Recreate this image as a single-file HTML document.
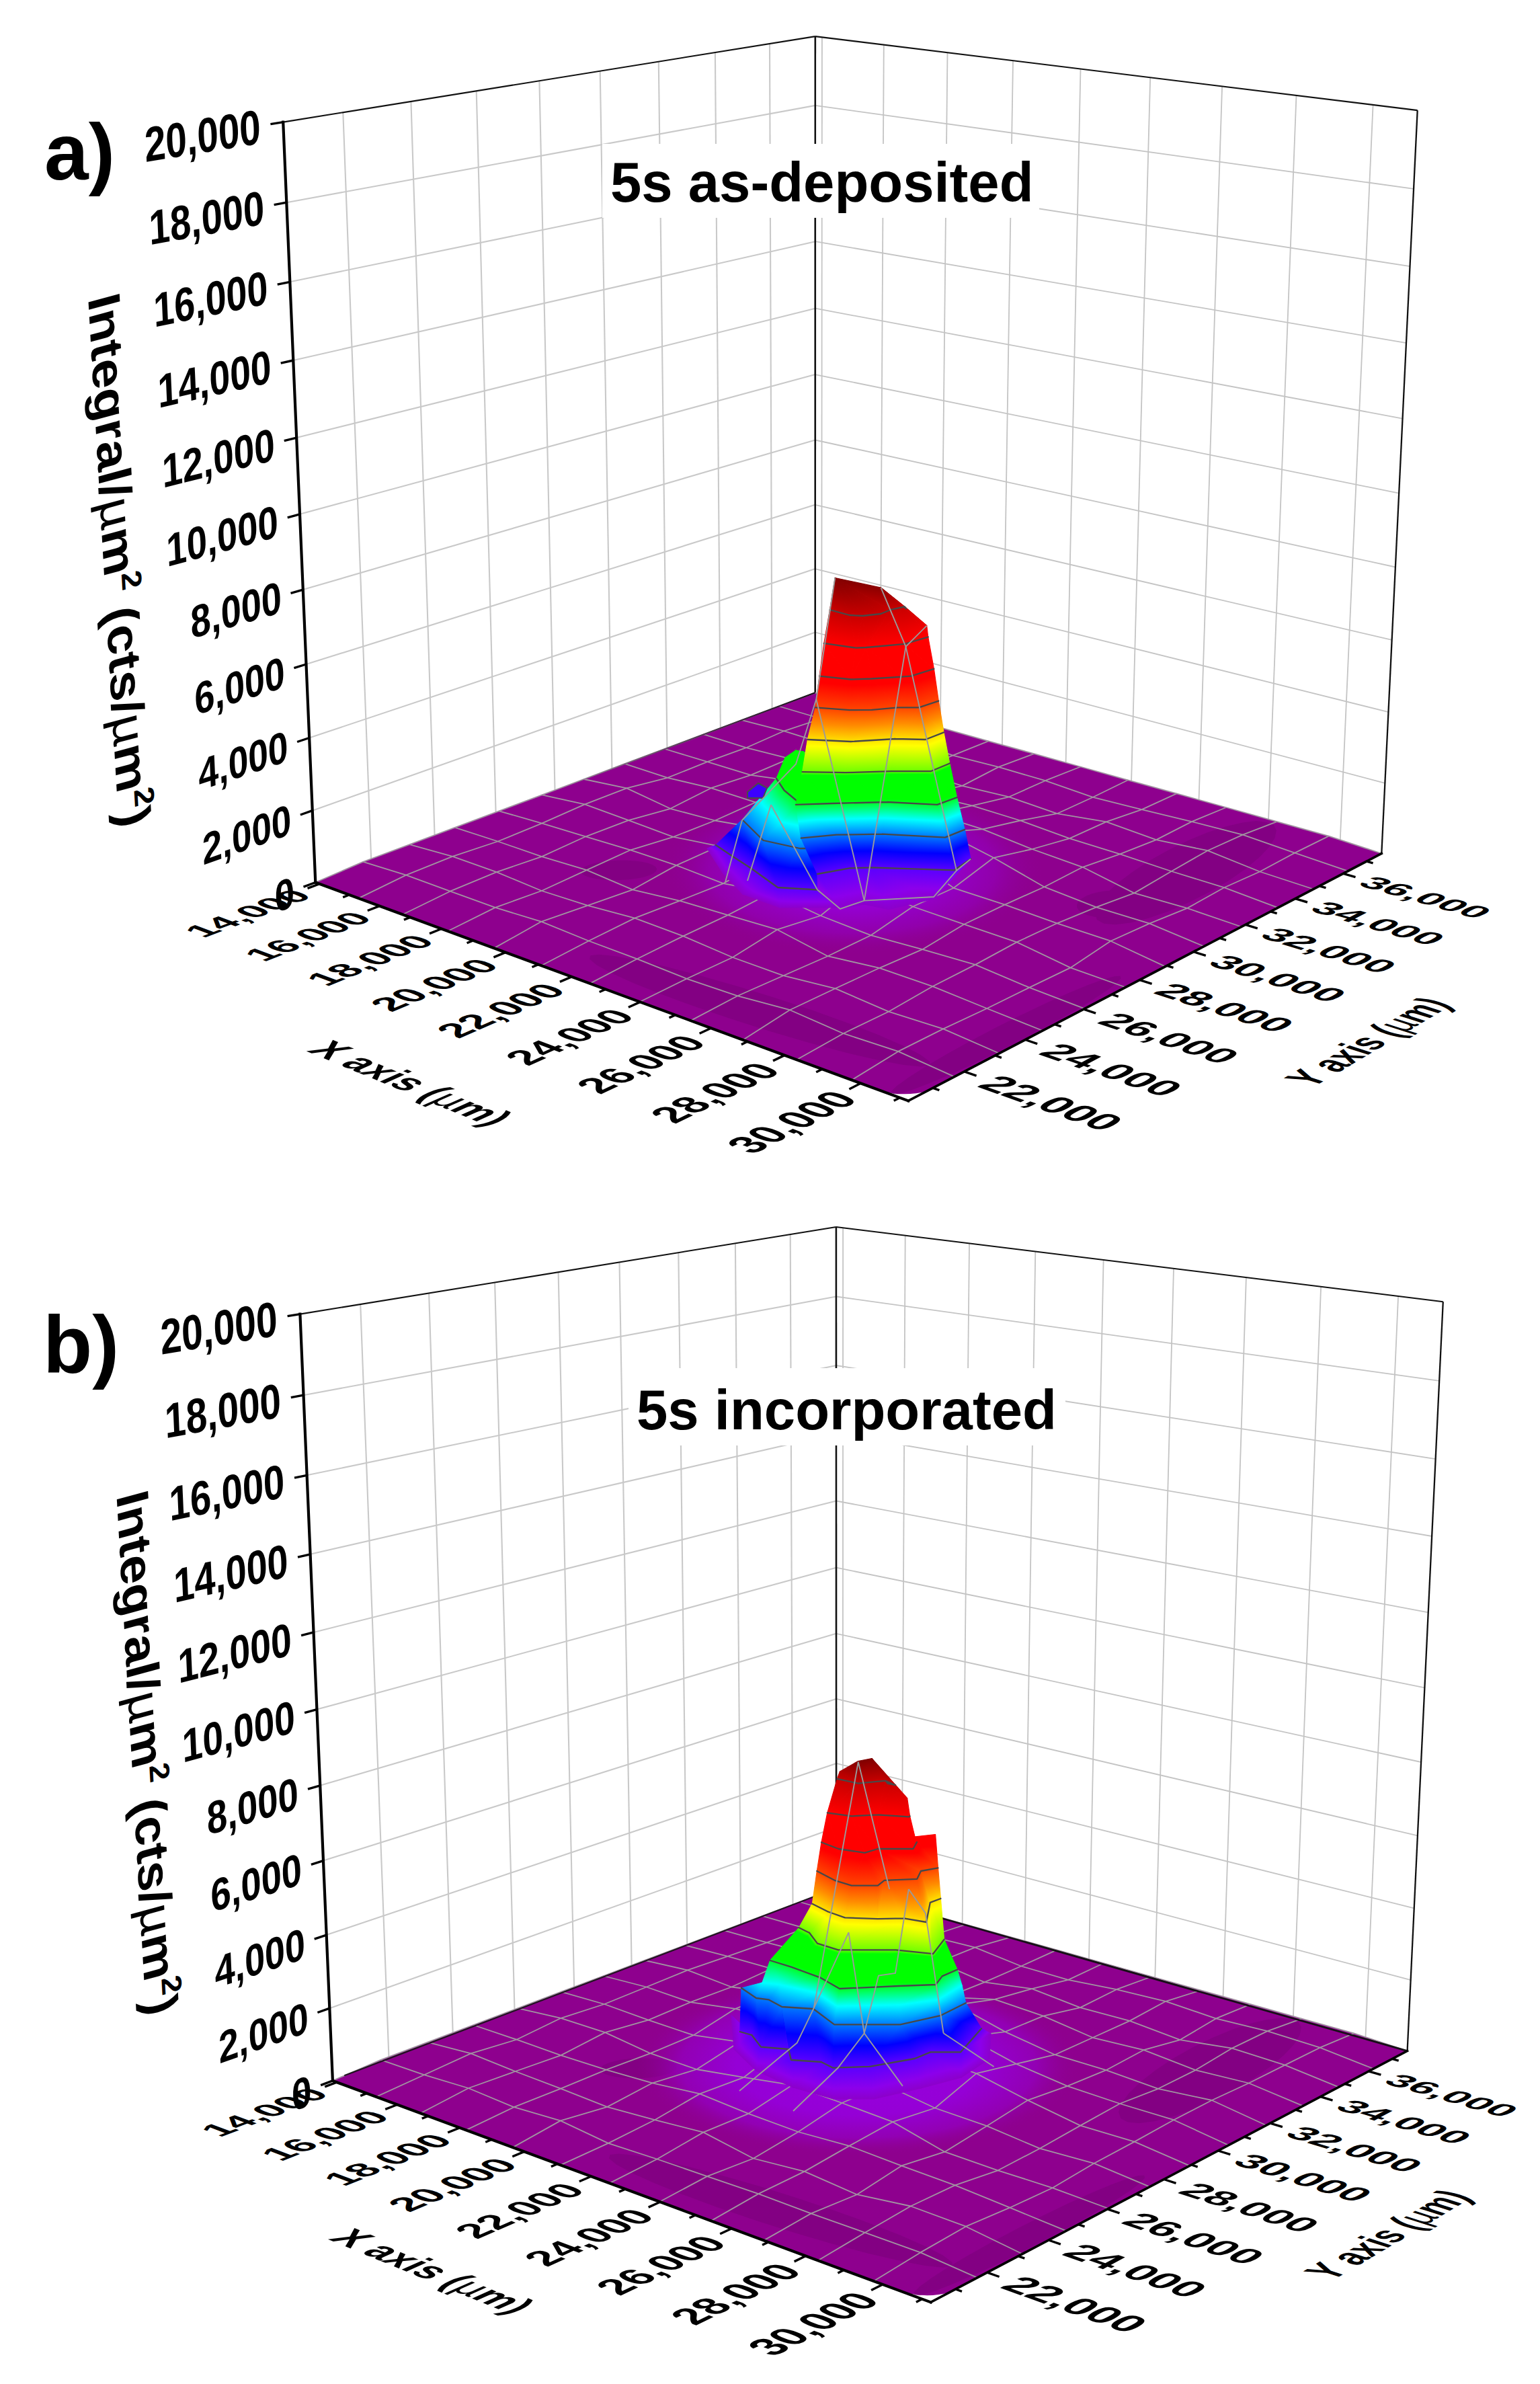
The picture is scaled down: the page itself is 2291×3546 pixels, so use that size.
<!DOCTYPE html>
<html><head><meta charset="utf-8"><title>Figure</title>
<style>html,body{margin:0;padding:0;background:#fff}svg{display:block}text{font-family:"Liberation Sans",sans-serif;fill:#000}</style>
</head><body>
<svg width="2291" height="3546" viewBox="0 0 2291 3546">
<defs>
<linearGradient id="cm"><stop offset="0%" stop-color="#8b008b"/><stop offset="6%" stop-color="#8c00eb"/><stop offset="10%" stop-color="#5a00ff"/><stop offset="15%" stop-color="#0000ff"/><stop offset="20%" stop-color="#0078ff"/><stop offset="25%" stop-color="#00ffff"/><stop offset="30%" stop-color="#00ff28"/><stop offset="31%" stop-color="#00ff00"/><stop offset="39%" stop-color="#00ff00"/><stop offset="40%" stop-color="#6eff00"/><stop offset="48%" stop-color="#ffff00"/><stop offset="50%" stop-color="#ffe100"/><stop offset="55%" stop-color="#ff8c00"/><stop offset="60%" stop-color="#ff4600"/><stop offset="68%" stop-color="#ff0000"/><stop offset="80%" stop-color="#ff0000"/><stop offset="90%" stop-color="#c80000"/><stop offset="100%" stop-color="#800000"/></linearGradient>
<radialGradient id="glow"><stop offset="0" stop-color="#9600df"/><stop offset="0.45" stop-color="#9500d2"/><stop offset="0.75" stop-color="#9200b0" stop-opacity="0.85"/><stop offset="1" stop-color="#8e008e" stop-opacity="0"/></radialGradient>
<radialGradient id="glow2"><stop offset="0" stop-color="#9600e1"/><stop offset="0.55" stop-color="#9500d6"/><stop offset="0.8" stop-color="#9300b8" stop-opacity="0.9"/><stop offset="1" stop-color="#8e008e" stop-opacity="0"/></radialGradient>
<radialGradient id="glow_old"><stop offset="0" stop-color="#9400e0"/><stop offset="0.55" stop-color="#9400d8" stop-opacity="0.9"/><stop offset="1" stop-color="#8b008b" stop-opacity="0"/></radialGradient>
<linearGradient id="bd1" gradientUnits="userSpaceOnUse" x1="831.6" y1="1172.9" x2="1212.7" y2="1030.3"><stop offset="0" stop-color="#402040" stop-opacity="0"/><stop offset="0.6" stop-color="#301830" stop-opacity="0.8"/><stop offset="1" stop-color="#181018"/></linearGradient>
<linearGradient id="g2" href="#cm" gradientUnits="userSpaceOnUse" x1="1047.7" y1="1268.3" x2="1154.2" y2="1110.6"/>
<linearGradient id="g3" href="#cm" gradientUnits="userSpaceOnUse" x1="1038" y1="1271" x2="1389.1" y2="1046.6"/>
<linearGradient id="g4" href="#cm" gradientUnits="userSpaceOnUse" x1="1064.7" y1="1313.9" x2="1322.5" y2="916.3"/>
<linearGradient id="g5" href="#cm" gradientUnits="userSpaceOnUse" x1="1057.7" y1="1314.2" x2="1489.1" y2="909.8"/>
<linearGradient id="g6" href="#cm" gradientUnits="userSpaceOnUse" x1="1090.1" y1="1350.8" x2="1463.8" y2="830.3"/>
<linearGradient id="g7" href="#cm" gradientUnits="userSpaceOnUse" x1="1098.8" y1="1347" x2="1253.6" y2="921.5"/>
<linearGradient id="g8" href="#cm" gradientUnits="userSpaceOnUse" x1="1158.8" y1="1369.8" x2="1188.2" y2="874.5"/>
<linearGradient id="g9" href="#cm" gradientUnits="userSpaceOnUse" x1="1160" y1="1367.7" x2="1160" y2="926"/>
<linearGradient id="g10" href="#cm" gradientUnits="userSpaceOnUse" x1="1225" y1="1367.7" x2="1225" y2="926"/>
<linearGradient id="g11" href="#cm" gradientUnits="userSpaceOnUse" x1="1251" y1="1368.8" x2="1226.7" y2="899.1"/>
<linearGradient id="g12" href="#cm" gradientUnits="userSpaceOnUse" x1="1035.2" y1="1301.1" x2="1333.1" y2="859.9"/>
<linearGradient id="g13" href="#cm" gradientUnits="userSpaceOnUse" x1="1059.6" y1="1317.9" x2="1350.9" y2="868.7"/>
<linearGradient id="g14" href="#cm" gradientUnits="userSpaceOnUse" x1="1088.4" y1="1322.1" x2="1384.5" y2="1021.2"/>
<linearGradient id="g15" href="#cm" gradientUnits="userSpaceOnUse" x1="1092.2" y1="1328" x2="1350.6" y2="968"/>
<linearGradient id="g16" href="#cm" gradientUnits="userSpaceOnUse" x1="1143.3" y1="1382.2" x2="1280.4" y2="759.8"/>
<linearGradient id="g17" href="#cm" gradientUnits="userSpaceOnUse" x1="1153.5" y1="1379.7" x2="1188.9" y2="782.3"/>
<linearGradient id="g18" href="#cm" gradientUnits="userSpaceOnUse" x1="1219.2" y1="1386.2" x2="1186.8" y2="759.4"/>
<linearGradient id="g19" href="#cm" gradientUnits="userSpaceOnUse" x1="1245" y1="1382" x2="1245" y2="782"/>
<linearGradient id="g20" href="#cm" gradientUnits="userSpaceOnUse" x1="977.4" y1="1303.4" x2="1611.9" y2="882.8"/>
<linearGradient id="g21" href="#cm" gradientUnits="userSpaceOnUse" x1="999.2" y1="1326.1" x2="1524.7" y2="792.1"/>
<linearGradient id="g22" href="#cm" gradientUnits="userSpaceOnUse" x1="1036.7" y1="1368.5" x2="1530.6" y2="775.9"/>
<linearGradient id="g23" href="#cm" gradientUnits="userSpaceOnUse" x1="1107.4" y1="1377.8" x2="1248.1" y2="738.8"/>
<linearGradient id="g24" href="#cm" gradientUnits="userSpaceOnUse" x1="1190" y1="1396" x2="1190" y2="726"/>
<linearGradient id="g25" href="#cm" gradientUnits="userSpaceOnUse" x1="1214.8" y1="1389.6" x2="1265.8" y2="751.7"/>
<linearGradient id="g26" href="#cm" gradientUnits="userSpaceOnUse" x1="1055.1" y1="1224.2" x2="1388.1" y2="1003.5"/>
<linearGradient id="g27" href="#cm" gradientUnits="userSpaceOnUse" x1="1129.6" y1="1377.7" x2="1253" y2="703.8"/>
<linearGradient id="g28" href="#cm" gradientUnits="userSpaceOnUse" x1="1045.3" y1="1321.1" x2="1449.7" y2="835.8"/>
<linearGradient id="g29" href="#cm" gradientUnits="userSpaceOnUse" x1="1169.2" y1="1455.1" x2="1238.5" y2="588.2"/>
<linearGradient id="g30" href="#cm" gradientUnits="userSpaceOnUse" x1="1174" y1="1442.9" x2="1310.6" y2="623.1"/>
<linearGradient id="g31" href="#cm" gradientUnits="userSpaceOnUse" x1="1205.5" y1="1344.1" x2="1435" y2="982.3"/>
<linearGradient id="g32" href="#cm" gradientUnits="userSpaceOnUse" x1="1256.8" y1="1389.5" x2="1087.9" y2="451.3"/>
<linearGradient id="g33" href="#cm" gradientUnits="userSpaceOnUse" x1="1257.3" y1="1389.2" x2="1075.1" y2="460"/>
<linearGradient id="g34" href="#cm" gradientUnits="userSpaceOnUse" x1="1286.8" y1="1381.1" x2="1259.6" y2="477.6"/>
<linearGradient id="g35" href="#cm" gradientUnits="userSpaceOnUse" x1="1278" y1="1381.4" x2="1470.8" y2="472.3"/>
<linearGradient id="g36" href="#cm" gradientUnits="userSpaceOnUse" x1="1332.1" y1="1395.8" x2="1079.8" y2="318.9"/>
<linearGradient id="g37" href="#cm" gradientUnits="userSpaceOnUse" x1="1388.1" y1="1366.1" x2="1411.2" y2="638.9"/>
<linearGradient id="g38" href="#cm" gradientUnits="userSpaceOnUse" x1="1394.6" y1="1343.7" x2="1254.4" y2="1176.2"/>
<linearGradient id="g39" href="#cm" gradientUnits="userSpaceOnUse" x1="1431.7" y1="1312.8" x2="1307.5" y2="1130.2"/>
<linearGradient id="g40" href="#cm" gradientUnits="userSpaceOnUse" x1="1226.1" y1="1356" x2="1125.4" y2="796.4"/>
<linearGradient id="g41" href="#cm" gradientUnits="userSpaceOnUse" x1="1268.6" y1="1342.5" x2="1221" y2="831.7"/>
<linearGradient id="g42" href="#cm" gradientUnits="userSpaceOnUse" x1="1265.3" y1="1341.6" x2="1250.2" y2="839.2"/>
<linearGradient id="g43" href="#cm" gradientUnits="userSpaceOnUse" x1="1297.7" y1="1339.9" x2="1290.5" y2="845.2"/>
<linearGradient id="g44" href="#cm" gradientUnits="userSpaceOnUse" x1="1294.4" y1="1340.8" x2="1320.8" y2="837"/>
<linearGradient id="g45" href="#cm" gradientUnits="userSpaceOnUse" x1="1295.5" y1="1338.6" x2="1310.8" y2="856.4"/>
<linearGradient id="g46" href="#cm" gradientUnits="userSpaceOnUse" x1="1446.6" y1="1333.9" x2="1177" y2="937.8"/>
<linearGradient id="g47" href="#cm" gradientUnits="userSpaceOnUse" x1="1460.3" y1="1318.5" x2="1296.9" y2="910.7"/>
<linearGradient id="g48" href="#cm" gradientUnits="userSpaceOnUse" x1="1201" y1="1346.6" x2="1154.4" y2="846.7"/>
<linearGradient id="g49" href="#cm" gradientUnits="userSpaceOnUse" x1="1247.6" y1="1335.4" x2="1231.2" y2="866.9"/>
<linearGradient id="g50" href="#cm" gradientUnits="userSpaceOnUse" x1="1245.7" y1="1335.3" x2="1238.8" y2="867.5"/>
<linearGradient id="g51" href="#cm" gradientUnits="userSpaceOnUse" x1="1314.8" y1="1335.7" x2="1303.2" y2="860.9"/>
<linearGradient id="g52" href="#cm" gradientUnits="userSpaceOnUse" x1="1307.4" y1="1336.7" x2="1332.7" y2="856.9"/>
<linearGradient id="g53" href="#cm" gradientUnits="userSpaceOnUse" x1="1307.5" y1="1336.6" x2="1332.6" y2="857.1"/>
<linearGradient id="g54" href="#cm" gradientUnits="userSpaceOnUse" x1="1442.9" y1="1337.6" x2="1258.5" y2="877.6"/>
<linearGradient id="g55" href="#cm" gradientUnits="userSpaceOnUse" x1="1468.8" y1="1325.6" x2="1300.8" y2="867.2"/>
<linearGradient id="g56" href="#cm" gradientUnits="userSpaceOnUse" x1="1189" y1="1341.8" x2="1172.1" y2="858.8"/>
<linearGradient id="g57" href="#cm" gradientUnits="userSpaceOnUse" x1="1236.3" y1="1333.3" x2="1243.4" y2="872.3"/>
<linearGradient id="g58" href="#cm" gradientUnits="userSpaceOnUse" x1="1241.7" y1="1330.9" x2="1230.7" y2="877.9"/>
<linearGradient id="g59" href="#cm" gradientUnits="userSpaceOnUse" x1="1324.3" y1="1329.8" x2="1310.9" y2="873.8"/>
<linearGradient id="g60" href="#cm" gradientUnits="userSpaceOnUse" x1="1320.3" y1="1330.4" x2="1320.3" y2="872.4"/>
<linearGradient id="g61" href="#cm" gradientUnits="userSpaceOnUse" x1="1312.5" y1="1340.2" x2="1338.4" y2="849.6"/>
<linearGradient id="g62" href="#cm" gradientUnits="userSpaceOnUse" x1="1445.9" y1="1337.8" x2="1273.9" y2="868.2"/>
<linearGradient id="g63" href="#cm" gradientUnits="userSpaceOnUse" x1="1482.1" y1="1327.3" x2="1286.9" y2="856.9"/>
<linearGradient id="g64" href="#cm" gradientUnits="userSpaceOnUse" x1="1190.6" y1="1341.4" x2="1198.1" y2="858.3"/>
<linearGradient id="g65" href="#cm" gradientUnits="userSpaceOnUse" x1="1249.3" y1="1335" x2="1271" y2="870.5"/>
<linearGradient id="g66" href="#cm" gradientUnits="userSpaceOnUse" x1="1263.4" y1="1332.9" x2="1249.9" y2="873.6"/>
<linearGradient id="g67" href="#cm" gradientUnits="userSpaceOnUse" x1="1337.5" y1="1337.9" x2="1308.7" y2="861.2"/>
<linearGradient id="g68" href="#cm" gradientUnits="userSpaceOnUse" x1="1321.7" y1="1340.4" x2="1332.5" y2="857.3"/>
<linearGradient id="g69" href="#cm" gradientUnits="userSpaceOnUse" x1="1326" y1="1336" x2="1326" y2="864"/>
<linearGradient id="g70" href="#cm" gradientUnits="userSpaceOnUse" x1="1456" y1="1319.3" x2="1277.5" y2="889"/>
<linearGradient id="g71" href="#cm" gradientUnits="userSpaceOnUse" x1="1479.8" y1="1307.5" x2="1312.3" y2="877.5"/>
<linearGradient id="g72" href="#cm" gradientUnits="userSpaceOnUse" x1="1183.4" y1="1341" x2="1219.4" y2="859"/>
<linearGradient id="g73" href="#cm" gradientUnits="userSpaceOnUse" x1="1190.5" y1="1333" x2="1212.3" y2="867"/>
<linearGradient id="g74" href="#cm" gradientUnits="userSpaceOnUse" x1="1267.8" y1="1337.1" x2="1263.6" y2="868.9"/>
<linearGradient id="g75" href="#cm" gradientUnits="userSpaceOnUse" x1="1279.3" y1="1328.2" x2="1252.1" y2="877.8"/>
<linearGradient id="g76" href="#cm" gradientUnits="userSpaceOnUse" x1="1352.6" y1="1328.4" x2="1311.4" y2="869.6"/>
<linearGradient id="g77" href="#cm" gradientUnits="userSpaceOnUse" x1="1332" y1="1332" x2="1332" y2="866"/>
<linearGradient id="g78" href="#cm" gradientUnits="userSpaceOnUse" x1="1326.7" y1="1335.8" x2="1337.3" y2="862.2"/>
<linearGradient id="g79" href="#cm" gradientUnits="userSpaceOnUse" x1="1463.8" y1="1323.2" x2="1289.8" y2="876.8"/>
<linearGradient id="g80" href="#cm" gradientUnits="userSpaceOnUse" x1="1478.3" y1="1311.4" x2="1329.7" y2="867.4"/>
<linearGradient id="g81" href="#cm" gradientUnits="userSpaceOnUse" x1="1183.5" y1="1333.9" x2="1232.7" y2="864.7"/>
<linearGradient id="g82" href="#cm" gradientUnits="userSpaceOnUse" x1="1192.5" y1="1325.9" x2="1226.6" y2="870.1"/>
<linearGradient id="g83" href="#cm" gradientUnits="userSpaceOnUse" x1="1272.5" y1="1329.8" x2="1258" y2="873.8"/>
<linearGradient id="g84" href="#cm" gradientUnits="userSpaceOnUse" x1="1266.3" y1="1334.6" x2="1262.1" y2="870.6"/>
<linearGradient id="g85" href="#cm" gradientUnits="userSpaceOnUse" x1="1321.8" y1="1332.1" x2="1280.4" y2="871.8"/>
<linearGradient id="g86" href="#cm" gradientUnits="userSpaceOnUse" x1="1353.5" y1="1323.8" x2="1324.2" y2="871.5"/>
<linearGradient id="g87" href="#cm" gradientUnits="userSpaceOnUse" x1="1355.8" y1="1323.2" x2="1322.6" y2="871.9"/>
<linearGradient id="g88" href="#cm" gradientUnits="userSpaceOnUse" x1="1335.9" y1="1333.2" x2="1335.9" y2="865.2"/>
<linearGradient id="g89" href="#cm" gradientUnits="userSpaceOnUse" x1="1458.5" y1="1326.1" x2="1306" y2="870"/>
<linearGradient id="g90" href="#cm" gradientUnits="userSpaceOnUse" x1="1481.8" y1="1315" x2="1339.3" y2="861"/>
<linearGradient id="g91" href="#cm" gradientUnits="userSpaceOnUse" x1="1183.1" y1="1347.7" x2="1234.4" y2="859"/>
<linearGradient id="g92" href="#cm" gradientUnits="userSpaceOnUse" x1="1218.8" y1="1339.2" x2="1285.8" y2="869.6"/>
<linearGradient id="g93" href="#cm" gradientUnits="userSpaceOnUse" x1="1280.4" y1="1335" x2="1259.4" y2="871.4"/>
<linearGradient id="g94" href="#cm" gradientUnits="userSpaceOnUse" x1="1276.1" y1="1337.5" x2="1261.2" y2="870.4"/>
<linearGradient id="g95" href="#cm" gradientUnits="userSpaceOnUse" x1="1318.3" y1="1337.3" x2="1287.9" y2="869"/>
<linearGradient id="g96" href="#cm" gradientUnits="userSpaceOnUse" x1="1371.9" y1="1342.3" x2="1328.7" y2="862.7"/>
<linearGradient id="g97" href="#cm" gradientUnits="userSpaceOnUse" x1="1366.5" y1="1343.7" x2="1331.1" y2="862.1"/>
<linearGradient id="g98" href="#cm" gradientUnits="userSpaceOnUse" x1="1456.8" y1="1329" x2="1311.8" y2="867"/>
<linearGradient id="g99" href="#cm" gradientUnits="userSpaceOnUse" x1="1484.7" y1="1316.5" x2="1348.6" y2="857.1"/>
<linearGradient id="g100" href="#cm" gradientUnits="userSpaceOnUse" x1="1122.4" y1="1345.5" x2="1251.7" y2="859.8"/>
<linearGradient id="g101" href="#cm" gradientUnits="userSpaceOnUse" x1="1172.9" y1="1327.9" x2="1239" y2="864.2"/>
<linearGradient id="g102" href="#cm" gradientUnits="userSpaceOnUse" x1="1253.8" y1="1348.3" x2="1278.4" y2="867.5"/>
<linearGradient id="g103" href="#cm" gradientUnits="userSpaceOnUse" x1="1290.5" y1="1341" x2="1269.2" y2="869.4"/>
<linearGradient id="g104" href="#cm" gradientUnits="userSpaceOnUse" x1="1330.5" y1="1339.4" x2="1278.6" y2="868.9"/>
<linearGradient id="g105" href="#cm" gradientUnits="userSpaceOnUse" x1="1406.5" y1="1240.5" x2="1259.6" y2="893.6"/>
<linearGradient id="g106" href="#cm" gradientUnits="userSpaceOnUse" x1="1372.1" y1="1325.9" x2="1268.2" y2="872.3"/>
<linearGradient id="g107" href="#cm" gradientUnits="userSpaceOnUse" x1="1328.8" y1="1404.2" x2="1279.1" y2="852.7"/>
<linearGradient id="g108" href="#cm" gradientUnits="userSpaceOnUse" x1="1466.8" y1="1366.8" x2="1315.3" y2="855.7"/>
<linearGradient id="g109" href="#cm" gradientUnits="userSpaceOnUse" x1="1540.8" y1="1356.4" x2="1340.7" y2="845.3"/>
<linearGradient id="g110" href="#cm" gradientUnits="userSpaceOnUse" x1="1123.1" y1="1325.5" x2="1246.9" y2="860.7"/>
<linearGradient id="g111" href="#cm" gradientUnits="userSpaceOnUse" x1="1238.8" y1="1403.3" x2="1266.6" y2="860.7"/>
<linearGradient id="g112" href="#cm" gradientUnits="userSpaceOnUse" x1="1343.1" y1="1458.6" x2="1276.7" y2="855.7"/>
<linearGradient id="g113" href="#cm" gradientUnits="userSpaceOnUse" x1="1576.7" y1="1541.7" x2="1280.9" y2="843.1"/>
<linearGradient id="g114" href="#cm" gradientUnits="userSpaceOnUse" x1="1280.9" y1="1232.6" x2="1329" y2="871"/>
<linearGradient id="g115" href="#cm" gradientUnits="userSpaceOnUse" x1="1407.7" y1="1271.8" x2="1314.9" y2="866.7"/>
<linearGradient id="g116" href="#cm" gradientUnits="userSpaceOnUse" x1="1419.9" y1="840.9" x2="1337.3" y2="909.1"/>
<linearGradient id="g117" href="#cm" gradientUnits="userSpaceOnUse" x1="1372" y1="939.1" x2="1380.1" y2="928.9"/>
<linearGradient id="g118" href="#cm" gradientUnits="userSpaceOnUse" x1="1400.7" y1="3037.5" x2="1332.9" y2="2615"/>
<linearGradient id="g119" href="#cm" gradientUnits="userSpaceOnUse" x1="1422.2" y1="3026" x2="1377.7" y2="2613.1"/>
<linearGradient id="g120" href="#cm" gradientUnits="userSpaceOnUse" x1="1091.6" y1="2985.5" x2="1002.1" y2="3298.5"/>
<linearGradient id="g121" href="#cm" gradientUnits="userSpaceOnUse" x1="1069.4" y1="2999.5" x2="1534.4" y2="2962.3"/>
<linearGradient id="g122" href="#cm" gradientUnits="userSpaceOnUse" x1="1074.2" y1="3061.7" x2="1519" y2="2718"/>
<linearGradient id="g123" href="#cm" gradientUnits="userSpaceOnUse" x1="1077.9" y1="3062.5" x2="1429.3" y2="2700.1"/>
<linearGradient id="g124" href="#cm" gradientUnits="userSpaceOnUse" x1="1123" y1="3103.8" x2="1172.4" y2="2508.2"/>
<linearGradient id="g125" href="#cm" gradientUnits="userSpaceOnUse" x1="1089.9" y1="3088.6" x2="1967.7" y2="2874.6"/>
<linearGradient id="g126" href="#cm" gradientUnits="userSpaceOnUse" x1="1115.1" y1="3101.9" x2="1363.6" y2="2555"/>
<linearGradient id="g127" href="#cm" gradientUnits="userSpaceOnUse" x1="1178.2" y1="3132.1" x2="1223.5" y2="2455.2"/>
<linearGradient id="g128" href="#cm" gradientUnits="userSpaceOnUse" x1="1164.4" y1="3136.4" x2="1554.6" y2="2351.5"/>
<linearGradient id="g129" href="#cm" gradientUnits="userSpaceOnUse" x1="1171.9" y1="3133.4" x2="1373.3" y2="2422.6"/>
<linearGradient id="g130" href="#cm" gradientUnits="userSpaceOnUse" x1="1241.1" y1="3152.8" x2="1214.2" y2="2381.7"/>
<linearGradient id="g131" href="#cm" gradientUnits="userSpaceOnUse" x1="1240" y1="3154.1" x2="1240" y2="2350.8"/>
<linearGradient id="g132" href="#cm" gradientUnits="userSpaceOnUse" x1="1307.2" y1="3153.4" x2="1127.6" y2="2367.5"/>
<linearGradient id="g133" href="#cm" gradientUnits="userSpaceOnUse" x1="1375.2" y1="3135.5" x2="1245.3" y2="2398"/>
<linearGradient id="g134" href="#cm" gradientUnits="userSpaceOnUse" x1="1381.2" y1="3133.3" x2="1101.6" y2="2451.7"/>
<linearGradient id="g135" href="#cm" gradientUnits="userSpaceOnUse" x1="1378.3" y1="3137" x2="1171.6" y2="2361.9"/>
<linearGradient id="g136" href="#cm" gradientUnits="userSpaceOnUse" x1="1430" y1="3115.1" x2="1430" y2="2488.4"/>
<linearGradient id="g137" href="#cm" gradientUnits="userSpaceOnUse" x1="1441.8" y1="3107.7" x2="1147.4" y2="2666.1"/>
<linearGradient id="g138" href="#cm" gradientUnits="userSpaceOnUse" x1="1500.9" y1="3063.6" x2="777.7" y2="3024.5"/>
<linearGradient id="g139" href="#cm" gradientUnits="userSpaceOnUse" x1="1481.8" y1="3031.9" x2="1287" y2="2859.9"/>
<linearGradient id="g140" href="#cm" gradientUnits="userSpaceOnUse" x1="1083.6" y1="3082.6" x2="1256.9" y2="2476.2"/>
<linearGradient id="g141" href="#cm" gradientUnits="userSpaceOnUse" x1="1090.7" y1="3067.6" x2="1367.6" y2="2661.4"/>
<linearGradient id="g142" href="#cm" gradientUnits="userSpaceOnUse" x1="1087.7" y1="3050.8" x2="1395.1" y2="2813.2"/>
<linearGradient id="g143" href="#cm" gradientUnits="userSpaceOnUse" x1="1123" y1="3115.2" x2="1213.1" y2="2409.6"/>
<linearGradient id="g144" href="#cm" gradientUnits="userSpaceOnUse" x1="1099.9" y1="3103.7" x2="1421.3" y2="2512.3"/>
<linearGradient id="g145" href="#cm" gradientUnits="userSpaceOnUse" x1="1126.9" y1="3106.4" x2="1178.1" y2="2488.7"/>
<linearGradient id="g146" href="#cm" gradientUnits="userSpaceOnUse" x1="1167.7" y1="3049.3" x2="1221.1" y2="3036.3"/>
<linearGradient id="g147" href="#cm" gradientUnits="userSpaceOnUse" x1="1171.9" y1="3141.8" x2="1221.9" y2="2363.8"/>
<linearGradient id="g148" href="#cm" gradientUnits="userSpaceOnUse" x1="1171.7" y1="3141.9" x2="1223.8" y2="2363.2"/>
<linearGradient id="g149" href="#cm" gradientUnits="userSpaceOnUse" x1="1192.5" y1="3125.7" x2="1484.3" y2="2538.9"/>
<linearGradient id="g150" href="#cm" gradientUnits="userSpaceOnUse" x1="1207.6" y1="3117.8" x2="1523.5" y2="2696.7"/>
<linearGradient id="g151" href="#cm" gradientUnits="userSpaceOnUse" x1="1241.4" y1="3139.9" x2="1219.1" y2="2498.3"/>
<linearGradient id="g152" href="#cm" gradientUnits="userSpaceOnUse" x1="1293.8" y1="3136.2" x2="1293.8" y2="2512.2"/>
<linearGradient id="g153" href="#cm" gradientUnits="userSpaceOnUse" x1="1303.1" y1="3126.5" x2="1210.2" y2="2599.2"/>
<linearGradient id="g154" href="#cm" gradientUnits="userSpaceOnUse" x1="1381.7" y1="3112.8" x2="1173.1" y2="2604.6"/>
<linearGradient id="g155" href="#cm" gradientUnits="userSpaceOnUse" x1="1395.2" y1="3101" x2="1285.5" y2="2614.7"/>
<linearGradient id="g156" href="#cm" gradientUnits="userSpaceOnUse" x1="1384.2" y1="3107" x2="1384.2" y2="2561"/>
<linearGradient id="g157" href="#cm" gradientUnits="userSpaceOnUse" x1="1472.6" y1="3090.9" x2="1037" y2="2706.2"/>
<linearGradient id="g158" href="#cm" gradientUnits="userSpaceOnUse" x1="1479.8" y1="3057" x2="1281.8" y2="2660"/>
<linearGradient id="g159" href="#cm" gradientUnits="userSpaceOnUse" x1="1048.8" y1="3036.6" x2="1320" y2="2638.8"/>
<linearGradient id="g160" href="#cm" gradientUnits="userSpaceOnUse" x1="1114.1" y1="3066.9" x2="1168.8" y2="2592.4"/>
<linearGradient id="g161" href="#cm" gradientUnits="userSpaceOnUse" x1="1112.7" y1="3068.3" x2="1174.2" y2="2586.8"/>
<linearGradient id="g162" href="#cm" gradientUnits="userSpaceOnUse" x1="1091.4" y1="3070.8" x2="1353.3" y2="2589"/>
<linearGradient id="g163" href="#cm" gradientUnits="userSpaceOnUse" x1="1136.4" y1="3108.3" x2="1270.9" y2="2492"/>
<linearGradient id="g164" href="#cm" gradientUnits="userSpaceOnUse" x1="1157.1" y1="3081.9" x2="1188.2" y2="2597.5"/>
<linearGradient id="g165" href="#cm" gradientUnits="userSpaceOnUse" x1="1159.5" y1="3063.7" x2="1411.8" y2="2685.2"/>
<linearGradient id="g166" href="#cm" gradientUnits="userSpaceOnUse" x1="1151.9" y1="3065.4" x2="1442.3" y2="2678.2"/>
<linearGradient id="g167" href="#cm" gradientUnits="userSpaceOnUse" x1="1243.5" y1="3120.6" x2="1231.8" y2="2574.5"/>
<linearGradient id="g168" href="#cm" gradientUnits="userSpaceOnUse" x1="1241.2" y1="3129" x2="1241.2" y2="2541"/>
<linearGradient id="g169" href="#cm" gradientUnits="userSpaceOnUse" x1="1355.4" y1="3127.6" x2="1275.3" y2="2546.8"/>
<linearGradient id="g170" href="#cm" gradientUnits="userSpaceOnUse" x1="1360.5" y1="3105.2" x2="1254.8" y2="2636.3"/>
<linearGradient id="g171" href="#cm" gradientUnits="userSpaceOnUse" x1="1440.7" y1="3080" x2="1235.8" y2="2669.2"/>
<linearGradient id="g172" href="#cm" gradientUnits="userSpaceOnUse" x1="1489.4" y1="3066.9" x2="1226.6" y2="2628.9"/>
<linearGradient id="g173" href="#cm" gradientUnits="userSpaceOnUse" x1="1114.4" y1="3118.5" x2="1192.7" y2="2440.5"/>
<linearGradient id="g174" href="#cm" gradientUnits="userSpaceOnUse" x1="1115.3" y1="3095.9" x2="1294.2" y2="2520.4"/>
<linearGradient id="g175" href="#cm" gradientUnits="userSpaceOnUse" x1="1107.9" y1="3095.3" x2="1316.3" y2="2522.2"/>
<linearGradient id="g176" href="#cm" gradientUnits="userSpaceOnUse" x1="1135.3" y1="3065.3" x2="1234.2" y2="2612"/>
<linearGradient id="g177" href="#cm" gradientUnits="userSpaceOnUse" x1="1160.2" y1="3059.9" x2="1379.5" y2="2676.4"/>
<linearGradient id="g178" href="#cm" gradientUnits="userSpaceOnUse" x1="1148.8" y1="3063.2" x2="1413.5" y2="2666.3"/>
<linearGradient id="g179" href="#cm" gradientUnits="userSpaceOnUse" x1="1250.9" y1="3112.8" x2="1227.4" y2="2597.5"/>
<linearGradient id="g180" href="#cm" gradientUnits="userSpaceOnUse" x1="1248" y1="3124" x2="1236" y2="2563.9"/>
<linearGradient id="g181" href="#cm" gradientUnits="userSpaceOnUse" x1="1343.1" y1="3122" x2="1322.7" y2="2562"/>
<linearGradient id="g182" href="#cm" gradientUnits="userSpaceOnUse" x1="1353.3" y1="3092.7" x2="1292.2" y2="2650"/>
<linearGradient id="g183" href="#cm" gradientUnits="userSpaceOnUse" x1="1461.7" y1="3024.6" x2="1198.8" y2="2822.2"/>
<linearGradient id="g184" href="#cm" gradientUnits="userSpaceOnUse" x1="1464.8" y1="3088.6" x2="1189.7" y2="2630.1"/>
<linearGradient id="g185" href="#cm" gradientUnits="userSpaceOnUse" x1="1479.8" y1="3064" x2="1284.7" y2="2620.1"/>
<linearGradient id="g186" href="#cm" gradientUnits="userSpaceOnUse" x1="1062.5" y1="3084.6" x2="1339.8" y2="2522.7"/>
<linearGradient id="g187" href="#cm" gradientUnits="userSpaceOnUse" x1="1095.4" y1="3077.9" x2="1263.2" y2="2538.2"/>
<linearGradient id="g188" href="#cm" gradientUnits="userSpaceOnUse" x1="1051.5" y1="3019.8" x2="1469.6" y2="2706.2"/>
<linearGradient id="g189" href="#cm" gradientUnits="userSpaceOnUse" x1="1129.4" y1="3056.3" x2="1287.7" y2="2621"/>
<linearGradient id="g190" href="#cm" gradientUnits="userSpaceOnUse" x1="1177.3" y1="3076.3" x2="1319.1" y2="2626.3"/>
<linearGradient id="g191" href="#cm" gradientUnits="userSpaceOnUse" x1="1146.8" y1="3068.9" x2="1390.1" y2="2643.5"/>
<linearGradient id="g192" href="#cm" gradientUnits="userSpaceOnUse" x1="1249" y1="3130.8" x2="1249" y2="2554.8"/>
<linearGradient id="g193" href="#cm" gradientUnits="userSpaceOnUse" x1="1256.3" y1="3119.1" x2="1231.9" y2="2582.2"/>
<linearGradient id="g194" href="#cm" gradientUnits="userSpaceOnUse" x1="1342.9" y1="3115.1" x2="1323.3" y2="2578.2"/>
<linearGradient id="g195" href="#cm" gradientUnits="userSpaceOnUse" x1="1377.9" y1="3086.7" x2="1425" y2="2637.8"/>
<linearGradient id="g196" href="#cm" gradientUnits="userSpaceOnUse" x1="1465.9" y1="3008.9" x2="1219.5" y2="2819.2"/>
<linearGradient id="g197" href="#cm" gradientUnits="userSpaceOnUse" x1="1445" y1="3038" x2="1300.6" y2="2709.3"/>
<linearGradient id="g198" href="#cm" gradientUnits="userSpaceOnUse" x1="1525.4" y1="3008.3" x2="1187.3" y2="2746"/>
<linearGradient id="g199" href="#cm" gradientUnits="userSpaceOnUse" x1="1116.7" y1="3012.9" x2="1296.4" y2="2648.9"/>
<linearGradient id="g200" href="#cm" gradientUnits="userSpaceOnUse" x1="1131.7" y1="3020" x2="1312.9" y2="2657.6"/>
<linearGradient id="g201" href="#cm" gradientUnits="userSpaceOnUse" x1="1073.1" y1="2973.4" x2="1400.9" y2="2727.5"/>
<linearGradient id="g202" href="#cm" gradientUnits="userSpaceOnUse" x1="1150.3" y1="3078.3" x2="1314.2" y2="2609"/>
<linearGradient id="g203" href="#cm" gradientUnits="userSpaceOnUse" x1="1157.1" y1="3077.1" x2="1304" y2="2610.9"/>
<linearGradient id="g204" href="#cm" gradientUnits="userSpaceOnUse" x1="1239.5" y1="3094.1" x2="1258.3" y2="2609.9"/>
<linearGradient id="g205" href="#cm" gradientUnits="userSpaceOnUse" x1="1251.1" y1="3079.7" x2="1240.8" y2="2631.5"/>
<linearGradient id="g206" href="#cm" gradientUnits="userSpaceOnUse" x1="1247" y1="3088.8" x2="1247" y2="2617.8"/>
<linearGradient id="g207" href="#cm" gradientUnits="userSpaceOnUse" x1="1299.9" y1="3091.5" x2="1381.9" y2="2613.8"/>
<linearGradient id="g208" href="#cm" gradientUnits="userSpaceOnUse" x1="1313.5" y1="3083" x2="1361.4" y2="2626.5"/>
<linearGradient id="g209" href="#cm" gradientUnits="userSpaceOnUse" x1="1462.7" y1="2921.1" x2="1276" y2="2883.9"/>
<linearGradient id="g210" href="#cm" gradientUnits="userSpaceOnUse" x1="1546.3" y1="3029" x2="1150.6" y2="2722"/>
<linearGradient id="g211" href="#cm" gradientUnits="userSpaceOnUse" x1="1487.7" y1="3104.4" x2="1280" y2="2555.3"/>
<linearGradient id="g212" href="#cm" gradientUnits="userSpaceOnUse" x1="1103.9" y1="3040.8" x2="1312.9" y2="2622.8"/>
<linearGradient id="g213" href="#cm" gradientUnits="userSpaceOnUse" x1="1125.2" y1="3046.8" x2="1338.4" y2="2640.2"/>
<linearGradient id="g214" href="#cm" gradientUnits="userSpaceOnUse" x1="1153.8" y1="3066.9" x2="1309.8" y2="2620.1"/>
<linearGradient id="g215" href="#cm" gradientUnits="userSpaceOnUse" x1="1185.6" y1="3084" x2="1328.4" y2="2620.6"/>
<linearGradient id="g216" href="#cm" gradientUnits="userSpaceOnUse" x1="1247.7" y1="3092.4" x2="1266.3" y2="2612.2"/>
<linearGradient id="g217" href="#cm" gradientUnits="userSpaceOnUse" x1="1305.9" y1="3102.2" x2="1305.9" y2="2606.2"/>
<linearGradient id="g218" href="#cm" gradientUnits="userSpaceOnUse" x1="1427" y1="3004.8" x2="1184.8" y2="2703.6"/>
<linearGradient id="g219" href="#cm" gradientUnits="userSpaceOnUse" x1="1312.5" y1="3139.9" x2="1299.3" y2="2568.5"/>
<linearGradient id="g220" href="#cm" gradientUnits="userSpaceOnUse" x1="1301.9" y1="3103.4" x2="1387.7" y2="2603.2"/>
<linearGradient id="g221" href="#cm" gradientUnits="userSpaceOnUse" x1="1391.3" y1="3182.3" x2="1364.7" y2="2535.7"/>
<linearGradient id="g222" href="#cm" gradientUnits="userSpaceOnUse" x1="1559.3" y1="2946.6" x2="1196.7" y2="2771.4"/>
<linearGradient id="g223" href="#cm" gradientUnits="userSpaceOnUse" x1="1489.3" y1="2881.2" x2="1266.7" y2="2836.8"/>
<linearGradient id="g224" href="#cm" gradientUnits="userSpaceOnUse" x1="1470" y1="3057.9" x2="1297.6" y2="2601.9"/>
<linearGradient id="g225" href="#cm" gradientUnits="userSpaceOnUse" x1="1440.8" y1="3048.5" x2="1358" y2="2599.5"/>
<linearGradient id="g226" href="#cm" gradientUnits="userSpaceOnUse" x1="1101.2" y1="3000.4" x2="1291.4" y2="2638"/>
<linearGradient id="g227" href="#cm" gradientUnits="userSpaceOnUse" x1="1143.6" y1="3053.5" x2="1306.9" y2="2625.7"/>
<linearGradient id="g228" href="#cm" gradientUnits="userSpaceOnUse" x1="1159.5" y1="3063" x2="1296.3" y2="2619.3"/>
<linearGradient id="g229" href="#cm" gradientUnits="userSpaceOnUse" x1="1221.1" y1="3107.6" x2="1297.5" y2="2602.6"/>
<linearGradient id="g230" href="#cm" gradientUnits="userSpaceOnUse" x1="1266.9" y1="3096.8" x2="1266.9" y2="2609.8"/>
<linearGradient id="g231" href="#cm" gradientUnits="userSpaceOnUse" x1="1494.5" y1="3039.2" x2="1180.1" y2="2648.2"/>
<linearGradient id="g232" href="#cm" gradientUnits="userSpaceOnUse" x1="1398.3" y1="3070.2" x2="1260.5" y2="2614.5"/>
<linearGradient id="g233" href="#cm" gradientUnits="userSpaceOnUse" x1="1327.2" y1="3079.5" x2="1307.9" y2="2608.3"/>
<linearGradient id="g234" href="#cm" gradientUnits="userSpaceOnUse" x1="1753.7" y1="2982.9" x2="1104.7" y2="2669.4"/>
<linearGradient id="g235" href="#cm" gradientUnits="userSpaceOnUse" x1="1370" y1="2981" x2="1370" y2="2651"/>
<linearGradient id="g236" href="#cm" gradientUnits="userSpaceOnUse" x1="1407.6" y1="2986.8" x2="1345" y2="2647.1"/>
<linearGradient id="g237" href="#cm" gradientUnits="userSpaceOnUse" x1="1638.1" y1="2910.1" x2="1233.7" y2="2690.4"/>
<linearGradient id="g238" href="#cm" gradientUnits="userSpaceOnUse" x1="1111.7" y1="3029" x2="1269.3" y2="2616.6"/>
<linearGradient id="g239" href="#cm" gradientUnits="userSpaceOnUse" x1="1199.5" y1="3102.9" x2="1267.9" y2="2598.7"/>
<linearGradient id="g240" href="#cm" gradientUnits="userSpaceOnUse" x1="1193.9" y1="3103.5" x2="1270.3" y2="2598.5"/>
<linearGradient id="g241" href="#cm" gradientUnits="userSpaceOnUse" x1="1403.8" y1="3143.9" x2="1236.1" y2="2589.6"/>
<linearGradient id="g242" href="#cm" gradientUnits="userSpaceOnUse" x1="1323.1" y1="3103.4" x2="1298.5" y2="2598.6"/>
<linearGradient id="g243" href="#cm" gradientUnits="userSpaceOnUse" x1="1305.9" y1="3104.2" x2="1305.9" y2="2598.2"/>
<linearGradient id="g244" href="#cm" gradientUnits="userSpaceOnUse" x1="1338" y1="3080.1" x2="1367.3" y2="2608.5"/>
<linearGradient id="g245" href="#cm" gradientUnits="userSpaceOnUse" x1="1515.6" y1="2818.5" x2="1291.2" y2="2720.6"/>
<linearGradient id="g246" href="#cm" gradientUnits="userSpaceOnUse" x1="1531.2" y1="2906.8" x2="1291.8" y2="2667.4"/>
<linearGradient id="g247" href="#cm" gradientUnits="userSpaceOnUse" x1="1141" y1="3107.3" x2="1253.3" y2="2593.7"/>
<linearGradient id="g248" href="#cm" gradientUnits="userSpaceOnUse" x1="1177.5" y1="3089.3" x2="1244.1" y2="2598.2"/>
<linearGradient id="g249" href="#cm" gradientUnits="userSpaceOnUse" x1="1285.7" y1="3086.2" x2="1262.2" y2="2605.1"/>
<linearGradient id="g250" href="#cm" gradientUnits="userSpaceOnUse" x1="1343.4" y1="3092.6" x2="1296.5" y2="2601.1"/>
<linearGradient id="g251" href="#cm" gradientUnits="userSpaceOnUse" x1="1242.7" y1="3109.6" x2="1321.7" y2="2596.9"/>
<linearGradient id="g252" href="#cm" gradientUnits="userSpaceOnUse" x1="1281" y1="3099.9" x2="1312.1" y2="2599.3"/>
<linearGradient id="g253" href="#cm" gradientUnits="userSpaceOnUse" x1="1698.6" y1="3048.3" x2="1266.1" y2="2615.8"/>
<linearGradient id="g254" href="#cm" gradientUnits="userSpaceOnUse" x1="1376.2" y1="3124.2" x2="1347.9" y2="2595.6"/>
<linearGradient id="g255" href="#cm" gradientUnits="userSpaceOnUse" x1="1172.6" y1="2979.4" x2="1253.6" y2="2608.7"/>
<linearGradient id="g256" href="#cm" gradientUnits="userSpaceOnUse" x1="1198.8" y1="2928.6" x2="1285.2" y2="2621.9"/>
<linearGradient id="g257" href="#cm" gradientUnits="userSpaceOnUse" x1="1331.5" y1="2940" x2="1270.5" y2="2620.7"/>
<linearGradient id="g258" href="#cm" gradientUnits="userSpaceOnUse" x1="1306.4" y1="2965.3" x2="1273.3" y2="2617.9"/>
<linearGradient id="g259" href="#cm" gradientUnits="userSpaceOnUse" x1="1296.3" y1="2664.2" x2="1319.9" y2="2647"/>
<linearGradient id="g260" href="#cm" gradientUnits="userSpaceOnUse" x1="1270.9" y1="2937.5" x2="1332.7" y2="2622.6"/>
<linearGradient id="g261" href="#cm" gradientUnits="userSpaceOnUse" x1="1274.1" y1="2849" x2="1363" y2="2644.3"/>
</defs>
<g><line x1="552.3" y1="1281.4" x2="510.3" y2="167.2" stroke="#c9c9c9" stroke-width="2.1" stroke-linecap="butt"/><line x1="646.7" y1="1246" x2="611.4" y2="150.9" stroke="#c9c9c9" stroke-width="2.1" stroke-linecap="butt"/><line x1="737.7" y1="1211.9" x2="708.7" y2="135.3" stroke="#c9c9c9" stroke-width="2.1" stroke-linecap="butt"/><line x1="825.6" y1="1178.9" x2="802.4" y2="120.2" stroke="#c9c9c9" stroke-width="2.1" stroke-linecap="butt"/><line x1="910.5" y1="1147.1" x2="892.7" y2="105.7" stroke="#c9c9c9" stroke-width="2.1" stroke-linecap="butt"/><line x1="992.5" y1="1116.3" x2="979.8" y2="91.6" stroke="#c9c9c9" stroke-width="2.1" stroke-linecap="butt"/><line x1="1071.8" y1="1086.6" x2="1063.9" y2="78.1" stroke="#c9c9c9" stroke-width="2.1" stroke-linecap="butt"/><line x1="1148.6" y1="1057.8" x2="1145" y2="65" stroke="#c9c9c9" stroke-width="2.1" stroke-linecap="butt"/><line x1="1222.3" y1="1036.5" x2="1222.9" y2="55.4" stroke="#c4c4c4" stroke-width="1.8" stroke-linecap="butt"/><line x1="1309.3" y1="1060.8" x2="1314.8" y2="66.7" stroke="#c4c4c4" stroke-width="1.8" stroke-linecap="butt"/><line x1="1398.8" y1="1085.8" x2="1409.5" y2="78.3" stroke="#c4c4c4" stroke-width="1.8" stroke-linecap="butt"/><line x1="1490.8" y1="1111.6" x2="1507" y2="90.2" stroke="#c4c4c4" stroke-width="1.8" stroke-linecap="butt"/><line x1="1585.5" y1="1138.1" x2="1607.5" y2="102.6" stroke="#c4c4c4" stroke-width="1.8" stroke-linecap="butt"/><line x1="1683" y1="1165.4" x2="1711.2" y2="115.3" stroke="#c4c4c4" stroke-width="1.8" stroke-linecap="butt"/><line x1="1783.4" y1="1193.5" x2="1818.1" y2="128.4" stroke="#c4c4c4" stroke-width="1.8" stroke-linecap="butt"/><line x1="1886.9" y1="1222.4" x2="1928.5" y2="142" stroke="#c4c4c4" stroke-width="1.8" stroke-linecap="butt"/><line x1="1993.6" y1="1252.2" x2="2042.6" y2="156" stroke="#c4c4c4" stroke-width="1.8" stroke-linecap="butt"/><line x1="464.7" y1="1205.7" x2="1212.7" y2="940.5" stroke="#c9c9c9" stroke-width="2.1" stroke-linecap="butt"/><line x1="1212.7" y1="940.5" x2="2060.4" y2="1164.9" stroke="#c4c4c4" stroke-width="1.8" stroke-linecap="butt"/><line x1="460.1" y1="1097.5" x2="1212.7" y2="846.1" stroke="#c9c9c9" stroke-width="2.1" stroke-linecap="butt"/><line x1="1212.7" y1="846.1" x2="2065.5" y2="1059.1" stroke="#c4c4c4" stroke-width="1.8" stroke-linecap="butt"/><line x1="455.5" y1="988" x2="1212.7" y2="750.8" stroke="#c9c9c9" stroke-width="2.1" stroke-linecap="butt"/><line x1="1212.7" y1="750.8" x2="2070.6" y2="951.9" stroke="#c4c4c4" stroke-width="1.8" stroke-linecap="butt"/><line x1="450.8" y1="877.1" x2="1212.7" y2="654.5" stroke="#c9c9c9" stroke-width="2.1" stroke-linecap="butt"/><line x1="1212.7" y1="654.5" x2="2075.9" y2="843.5" stroke="#c4c4c4" stroke-width="1.8" stroke-linecap="butt"/><line x1="446" y1="764.8" x2="1212.7" y2="557.1" stroke="#c9c9c9" stroke-width="2.1" stroke-linecap="butt"/><line x1="1212.7" y1="557.1" x2="2081.2" y2="733.7" stroke="#c4c4c4" stroke-width="1.8" stroke-linecap="butt"/><line x1="441.2" y1="651.1" x2="1212.8" y2="458.7" stroke="#c9c9c9" stroke-width="2.1" stroke-linecap="butt"/><line x1="1212.8" y1="458.7" x2="2086.5" y2="622.6" stroke="#c4c4c4" stroke-width="1.8" stroke-linecap="butt"/><line x1="436.3" y1="536" x2="1212.8" y2="359.2" stroke="#c9c9c9" stroke-width="2.1" stroke-linecap="butt"/><line x1="1212.8" y1="359.2" x2="2092" y2="510.1" stroke="#c4c4c4" stroke-width="1.8" stroke-linecap="butt"/><line x1="431.3" y1="419.3" x2="1212.8" y2="258.6" stroke="#c9c9c9" stroke-width="2.1" stroke-linecap="butt"/><line x1="1212.8" y1="258.6" x2="2097.5" y2="396.2" stroke="#c4c4c4" stroke-width="1.8" stroke-linecap="butt"/><line x1="426.3" y1="301.2" x2="1212.8" y2="156.9" stroke="#c9c9c9" stroke-width="2.1" stroke-linecap="butt"/><line x1="1212.8" y1="156.9" x2="2103" y2="280.9" stroke="#c4c4c4" stroke-width="1.8" stroke-linecap="butt"/></g>
<line x1="421.2" y1="181.6" x2="1212.8" y2="54.1" stroke="#111" stroke-width="2.1" stroke-linecap="butt"/>
<line x1="1212.8" y1="54.1" x2="2108.7" y2="164.1" stroke="#111" stroke-width="2.1" stroke-linecap="butt"/>
<line x1="1212.8" y1="54.1" x2="1212.7" y2="1033.8" stroke="#111" stroke-width="2.6" stroke-linecap="butt"/>
<line x1="2108.7" y1="164.1" x2="2055.3" y2="1269.5" stroke="#111" stroke-width="2.3" stroke-linecap="butt"/>
<rect x="896" y="214" width="650" height="110" fill="#fff"/><text x="908" y="300" font-size="83.3" font-weight="bold">5s as-deposited</text>
<path d="M469.3 1312.5L1313.2 1623.4Q1347.3 1631.4 1379.1 1623L2055.3 1269.5L1976.7 1243.6L1899.6 1222.1L1824.1 1201L1750.4 1180.4L1678.1 1160.3L1607.4 1140.5L1538.2 1121.2L1470.4 1102.3L1404 1083.7L1339 1065.5L1275.2 1047.7L1212.7 1030.3L1158.8 1050.5L1103.6 1071.1L1047 1092.3L989.1 1114L929.7 1136.2L868.8 1159L806.4 1182.3L742.4 1206.3L676.8 1230.8L609.4 1256.1L540.2 1281.9 Z" fill="#8e008e"/>
<g fill="#7c007c" opacity="0.6"><polygon points="1382.9,1585 1382.9,1578.9 1369.3,1568.8 1343.2,1555.3 1306,1539.1 1260.1,1521.2 1207.9,1502.5 1152.3,1484.1 1096.1,1466.7 1041.9,1451.2 992.4,1438.3 949.6,1428.5 915.4,1422.3 891.3,1419.8 878.3,1421.2 877.1,1426.5 887.8,1435.4 910,1447.5 942.9,1462.4 985.1,1479.3 1034.9,1497.6 1089.9,1516.3 1147.3,1534.5 1204.4,1551.2 1257.9,1565.6 1305,1576.6 1342.9,1583.8 1369.4,1586.6"/><polygon points="1525,1544 1561.9,1524.3 1595.3,1505.5 1623.5,1488.5 1645.5,1474.1 1660.3,1462.9 1667.4,1455.4 1666.5,1451.8 1657.7,1452.2 1641.4,1456.8 1618.3,1465.2 1589.3,1477.2 1555.8,1492.3 1519.1,1509.7 1480.9,1528.8 1443.2,1548.7 1407.9,1568.2 1376.9,1586.4 1351.9,1602.4 1334.4,1615.1 1325.5,1623.8 1328.4,1626.7 1335.4,1627.5 1353.7,1622.2 1379.6,1612.5 1411.6,1598.9 1447.9,1582.4 1486.4,1563.7"/><polygon points="1828,1309.8 1852.9,1292.5 1873.1,1275.6 1887.9,1260 1896.6,1246.3 1898.9,1235.2 1894.9,1227.1 1883.6,1222.9 1869.1,1221.1 1848.5,1223.4 1823.9,1229.3 1796.4,1238.3 1767.2,1250.3 1737.7,1264.7 1709.2,1280.8 1683.2,1297.9 1661,1315.1 1644,1331.6 1633,1346.5 1628.9,1359 1632,1368.2 1642.3,1373.8 1659.1,1375.2 1681.6,1372.5 1708.5,1365.7 1738.2,1355.4 1769.2,1342.1 1799.6,1326.6"/><polygon points="977.1,1292.5 975.3,1289.3 970.8,1286.4 963.8,1283.8 954.6,1281.8 943.8,1280.4 931.9,1279.7 919.4,1279.8 906.9,1280.5 895.1,1282 884.6,1284.1 875.9,1286.7 869.4,1289.6 865.4,1292.9 864.2,1296.2 865.8,1299.4 870.2,1302.4 877.2,1305 886.3,1307 897.3,1308.4 909.4,1309.1 922.1,1309.1 934.7,1308.3 946.6,1306.8 957.2,1304.7 965.9,1302.1 972.3,1299 976.1,1295.8"/><polygon points="1690.3,1356.1 1696.9,1352 1701.2,1347.6 1703.1,1343.1 1702.5,1338.6 1699.3,1334.5 1693.9,1330.8 1686.4,1327.9 1677.3,1325.8 1666.9,1324.6 1655.9,1324.4 1644.6,1325.2 1633.8,1327 1623.9,1329.6 1615.3,1333 1608.6,1337 1604.1,1341.3 1602,1345.9 1602.4,1350.3 1605.4,1354.5 1610.8,1358.3 1618.2,1361.3 1627.5,1363.5 1638,1364.7 1649.3,1364.9 1660.7,1364.1 1671.8,1362.3 1681.8,1359.5"/></g>
<ellipse cx="1268" cy="1292" rx="285" ry="128" fill="url(#glow)"/>
<g fill="none" stroke="#a193a1" stroke-width="1.8" stroke-linejoin="round"><polyline points="469.3,1312.5 533.4,1336.1 599,1360.3 666.1,1385 734.9,1410.4 805.3,1436.3 877.5,1462.9 951.6,1490.2 1027.5,1518.1 1105.3,1546.8 1185.2,1576.2 1267.2,1606.4 1351.3,1637.4"/><polyline points="540.2,1281.9 604.1,1301.6 669.7,1325.7 736.8,1349.9 805.4,1370.8 875.8,1399.5 947.9,1426.3 1021.7,1455.8 1097.4,1481.3 1175,1502.2 1254.6,1537.2 1336.2,1563.9 1420,1601.6"/><polyline points="609.4,1256.1 673.2,1273.9 738.7,1297.1 805.8,1325 874.3,1346.9 944.3,1365.6 1016.3,1392.4 1089.9,1424 1165.3,1451.2 1242.7,1470.3 1321.9,1504.7 1403.2,1530.4 1486.5,1566.8"/><polyline points="676.8,1230.8 740.6,1251.5 806,1274.1 872.8,1294.1 941.2,1323.3 1011.1,1339.8 1082.8,1361.1 1156.2,1382.7 1231.4,1422.2 1308.4,1439.8 1387.3,1467.2 1468.2,1500 1551.1,1533"/><polyline points="742.4,1206.3 806.2,1224.6 871.3,1244.3 938,1264.3 1006.2,1287.1 1076.1,1314.1 1147.5,1327.7 1220.7,1362 1295.5,1391.2 1372.2,1412.2 1450.9,1434.9 1531.3,1468.9 1613.7,1500.3"/><polyline points="806.4,1182.3 870,1196.4 935.1,1220.1 1001.7,1244.8 1069.6,1258.6 1139.2,1277.8 1210.5,1284 1283.4,1311.1 1358,1348.5 1434.4,1374.8 1512.6,1401.4 1592.5,1439.4 1674.6,1468.5"/><polyline points="868.8,1159 932.3,1172.4 997.3,1202.8 1063.6,1220.5 1131.4,1232.3 1200.8,1235 1271.9,1244.9 1344.6,1267.6 1418.7,1320.8 1494.8,1345.6 1572.6,1373.3 1652.3,1399.7 1733.6,1437.6"/><polyline points="929.7,1136.2 993.1,1156.8 1057.8,1172.2 1124,1193.4 1191.6,1209.7 1260.8,1214 1331.7,1209.6 1404.2,1237.5 1478.1,1275.8 1553.5,1319.2 1630.8,1349.4 1710.1,1373.6 1791,1407.6"/><polyline points="989.1,1114 1052.3,1133.2 1116.9,1152.8 1182.8,1162.2 1250.2,1186.1 1319.2,1201 1389.7,1210.7 1461.8,1233.4 1535.4,1263 1610.6,1289.8 1687.3,1328.4 1766.2,1350.9 1846.8,1378.5"/><polyline points="1047,1092.3 1110.1,1112.2 1174.4,1128.3 1240.2,1140.3 1307.4,1165.4 1376,1181.6 1446.2,1198.4 1517.9,1220.5 1591.1,1247.1 1666.1,1270.4 1742.7,1296 1821.1,1320.2 1901.1,1350.1"/><polyline points="1103.6,1071.1 1166.4,1087.3 1230.6,1107.4 1296.2,1122.5 1363.1,1146.6 1431.4,1168.9 1501.2,1185.3 1572.5,1210.2 1645.7,1222.4 1720.1,1249.1 1796.5,1265.2 1874.2,1296.5 1953.9,1322.5"/><polyline points="1158.8,1050.5 1221.5,1069 1285.5,1082.4 1350.8,1098.8 1417.4,1123.6 1485.5,1140.9 1555,1161.2 1626,1185.8 1698.6,1204.1 1772.9,1222.1 1848.8,1241.6 1926.2,1268.6 2005.3,1295.7"/><polyline points="1212.7,1030.3 1275.2,1047.7 1339,1065.5 1404,1083.7 1470.4,1102.3 1538.2,1121.2 1607.4,1140.5 1678.1,1160.3 1750.4,1180.4 1824.1,1201 1899.6,1222.1 1976.7,1243.6 2055.3,1269.5"/><polyline points="469.3,1312.5 540.2,1281.9 609.4,1256.1 676.8,1230.8 742.4,1206.3 806.4,1182.3 868.8,1159 929.7,1136.2 989.1,1114 1047,1092.3 1103.6,1071.1 1158.8,1050.5 1212.7,1030.3"/><polyline points="533.4,1336.1 604.1,1301.6 673.2,1273.9 740.6,1251.5 806.2,1224.6 870,1196.4 932.3,1172.4 993.1,1156.8 1052.3,1133.2 1110.1,1112.2 1166.4,1087.3 1221.5,1069 1275.2,1047.7"/><polyline points="599,1360.3 669.7,1325.7 738.7,1297.1 806,1274.1 871.3,1244.3 935.1,1220.1 997.3,1202.8 1057.8,1172.2 1116.9,1152.8 1174.4,1128.3 1230.6,1107.4 1285.5,1082.4 1339,1065.5"/><polyline points="666.1,1385 736.8,1349.9 805.8,1325 872.8,1294.1 938,1264.3 1001.7,1244.8 1063.6,1220.5 1124,1193.4 1182.8,1162.2 1240.2,1140.3 1296.2,1122.5 1350.8,1098.8 1404,1083.7"/><polyline points="734.9,1410.4 805.4,1370.8 874.3,1346.9 941.2,1323.3 1006.2,1287.1 1069.6,1258.6 1131.4,1232.3 1191.6,1209.7 1250.2,1186.1 1307.4,1165.4 1363.1,1146.6 1417.4,1123.6 1470.4,1102.3"/><polyline points="805.3,1436.3 875.8,1399.5 944.3,1365.6 1011.1,1339.8 1076.1,1314.1 1139.2,1277.8 1200.8,1235 1260.8,1214 1319.2,1201 1376,1181.6 1431.4,1168.9 1485.5,1140.9 1538.2,1121.2"/><polyline points="877.5,1462.9 947.9,1426.3 1016.3,1392.4 1082.8,1361.1 1147.5,1327.7 1210.5,1284 1271.9,1244.9 1331.7,1209.6 1389.7,1210.7 1446.2,1198.4 1501.2,1185.3 1555,1161.2 1607.4,1140.5"/><polyline points="951.6,1490.2 1021.7,1455.8 1089.9,1424 1156.2,1382.7 1220.7,1362 1283.4,1311.1 1344.6,1267.6 1404.2,1237.5 1461.8,1233.4 1517.9,1220.5 1572.5,1210.2 1626,1185.8 1678.1,1160.3"/><polyline points="1027.5,1518.1 1097.4,1481.3 1165.3,1451.2 1231.4,1422.2 1295.5,1391.2 1358,1348.5 1418.7,1320.8 1478.1,1275.8 1535.4,1263 1591.1,1247.1 1645.7,1222.4 1698.6,1204.1 1750.4,1180.4"/><polyline points="1105.3,1546.8 1175,1502.2 1242.7,1470.3 1308.4,1439.8 1372.2,1412.2 1434.4,1374.8 1494.8,1345.6 1553.5,1319.2 1610.6,1289.8 1666.1,1270.4 1720.1,1249.1 1772.9,1222.1 1824.1,1201"/><polyline points="1185.2,1576.2 1254.6,1537.2 1321.9,1504.7 1387.3,1467.2 1450.9,1434.9 1512.6,1401.4 1572.6,1373.3 1630.8,1349.4 1687.3,1328.4 1742.7,1296 1796.5,1265.2 1848.8,1241.6 1899.6,1222.1"/><polyline points="1267.2,1606.4 1336.2,1563.9 1403.2,1530.4 1468.2,1500 1531.3,1468.9 1592.5,1439.4 1652.3,1399.7 1710.1,1373.6 1766.2,1350.9 1821.1,1320.2 1874.2,1296.5 1926.2,1268.6 1976.7,1243.6"/><polyline points="1351.3,1637.4 1420,1601.6 1486.5,1566.8 1551.1,1533 1613.7,1500.3 1674.6,1468.5 1733.6,1437.6 1791,1407.6 1846.8,1378.5 1901.1,1350.1 1953.9,1322.5 2005.3,1295.7 2055.3,1269.5"/></g>
<line x1="831.6" y1="1172.9" x2="1212.7" y2="1030.3" stroke="url(#bd1)" stroke-width="2.2"/>
<g stroke-width="1.2" stroke-linejoin="round"><path d="M1052 1262L1088.7 1273L1065 1257Z" fill="url(#g2)" stroke="url(#g2)"/><path d="M1052 1262L1075 1298L1088.7 1273Z" fill="url(#g3)" stroke="url(#g3)"/><path d="M1075 1298L1118 1292L1088.7 1273Z" fill="url(#g4)" stroke="url(#g4)"/><path d="M1075 1298L1105 1330L1118 1292Z" fill="url(#g5)" stroke="url(#g5)"/><path d="M1105 1330L1157 1320L1118 1292Z" fill="url(#g6)" stroke="url(#g6)"/><path d="M1105 1330L1160 1350L1157 1320Z" fill="url(#g7)" stroke="url(#g7)"/><path d="M1160 1350L1216 1323.5L1157 1320Z" fill="url(#g8)" stroke="url(#g8)"/><path d="M1160 1350L1225 1350L1216 1323.5Z" fill="url(#g9)" stroke="url(#g9)"/><path d="M1225 1350L1250 1350L1216 1323.5Z" fill="url(#g10)" stroke="url(#g10)"/><path d="M1250 1350L1245 1322L1216 1323.5Z" fill="url(#g11)" stroke="url(#g11)"/><path d="M1065 1257L1088.7 1273L1104.3 1219.3Z" fill="url(#g12)" stroke="url(#g12)"/><path d="M1088.7 1273L1118 1292L1104.3 1219.3Z" fill="url(#g13)" stroke="url(#g13)"/><path d="M1118 1292L1135.5 1250L1104.3 1219.3Z" fill="url(#g14)" stroke="url(#g14)"/><path d="M1118 1292L1157 1320L1135.5 1250Z" fill="url(#g15)" stroke="url(#g15)"/><path d="M1157 1320L1190 1262L1135.5 1250Z" fill="url(#g16)" stroke="url(#g16)"/><path d="M1157 1320L1216 1323.5L1190 1262Z" fill="url(#g17)" stroke="url(#g17)"/><path d="M1216 1323.5L1245 1322L1190 1262Z" fill="url(#g18)" stroke="url(#g18)"/><path d="M1245 1322L1225 1262L1190 1262Z" fill="url(#g19)" stroke="url(#g19)"/><path d="M1104.3 1219.3L1166.6 1175.5L1155 1158Z" fill="url(#g20)" stroke="url(#g20)"/><path d="M1104.3 1219.3L1135.5 1250L1166.6 1175.5Z" fill="url(#g21)" stroke="url(#g21)"/><path d="M1135.5 1250L1190 1195L1166.6 1175.5Z" fill="url(#g22)" stroke="url(#g22)"/><path d="M1135.5 1250L1190 1262L1190 1195Z" fill="url(#g23)" stroke="url(#g23)"/><path d="M1190 1262L1225 1262L1190 1195Z" fill="url(#g24)" stroke="url(#g24)"/><path d="M1225 1262L1215 1197L1190 1195Z" fill="url(#g25)" stroke="url(#g25)"/><path d="M1155 1158L1166.6 1175.5L1168 1127Z" fill="url(#g26)" stroke="url(#g26)"/><path d="M1166.6 1175.5L1184 1116L1168 1127Z" fill="url(#g27)" stroke="url(#g27)"/><path d="M1166.6 1175.5L1190 1195L1184 1116Z" fill="url(#g28)" stroke="url(#g28)"/><path d="M1190 1195L1215 1197L1184 1116Z" fill="url(#g29)" stroke="url(#g29)"/><path d="M1215 1197L1196 1118L1184 1116Z" fill="url(#g30)" stroke="url(#g30)"/></g>
<path d="M1088.7 1273L1065 1257M1118 1292L1088.7 1273M1118 1292L1118 1292M1157 1320L1118 1292M1157 1320L1157 1320M1216 1323.5L1157 1320M1245 1322L1216 1323.5M1245 1322L1245 1322M1104.3 1219.3L1104.3 1219.3M1135.5 1250L1104.3 1219.3M1135.5 1250L1135.5 1250M1190 1262L1135.5 1250M1225 1262L1190 1262M1225 1262L1225 1262M1166.6 1175.5L1155 1158M1166.6 1175.5L1166.6 1175.5M1190 1195L1166.6 1175.5M1215 1197L1190 1195M1215 1197L1215 1197" stroke="#484848" stroke-width="2.3" fill="none" stroke-linecap="round"/>
<path d="M1128 1165L1141 1172L1135 1187L1112 1187L1112 1178Z" fill="#3c00ff" stroke="#4a4a4a" stroke-width="2"/>
<g stroke-width="1.2" stroke-linejoin="round"><path d="M1217 1326L1250 1352L1216 1300Z" fill="url(#g31)" stroke="url(#g31)"/><path d="M1250 1352L1263.8 1291.4L1216 1300Z" fill="url(#g32)" stroke="url(#g32)"/><path d="M1250 1352L1285.7 1345L1263.8 1291.4Z" fill="url(#g33)" stroke="url(#g33)"/><path d="M1285.7 1345L1297 1290.4L1263.8 1291.4Z" fill="url(#g34)" stroke="url(#g34)"/><path d="M1285.7 1345L1322 1352.7L1297 1290.4Z" fill="url(#g35)" stroke="url(#g35)"/><path d="M1322 1352.7L1389 1337L1297 1290.4Z" fill="url(#g36)" stroke="url(#g36)"/><path d="M1389 1337L1419.6 1294.3L1297 1290.4Z" fill="url(#g37)" stroke="url(#g37)"/><path d="M1389 1337L1423 1300L1419.6 1294.3Z" fill="url(#g38)" stroke="url(#g38)"/><path d="M1423 1300L1444 1277.7L1419.6 1294.3Z" fill="url(#g39)" stroke="url(#g39)"/><path d="M1216 1300L1263.8 1291.4L1191.7 1246.6Z" fill="url(#g40)" stroke="url(#g40)"/><path d="M1263.8 1291.4L1244.3 1241.7L1191.7 1246.6Z" fill="url(#g41)" stroke="url(#g41)"/><path d="M1263.8 1291.4L1297 1290.4L1244.3 1241.7Z" fill="url(#g42)" stroke="url(#g42)"/><path d="M1297 1290.4L1312.5 1240.7L1244.3 1241.7Z" fill="url(#g43)" stroke="url(#g43)"/><path d="M1297 1290.4L1406 1245.6L1312.5 1240.7Z" fill="url(#g44)" stroke="url(#g44)"/><path d="M1297 1290.4L1419.6 1294.3L1406 1245.6Z" fill="url(#g45)" stroke="url(#g45)"/><path d="M1419.6 1294.3L1444 1277.7L1406 1245.6Z" fill="url(#g46)" stroke="url(#g46)"/><path d="M1444 1277.7L1435.2 1233.9L1406 1245.6Z" fill="url(#g47)" stroke="url(#g47)"/><path d="M1191.7 1246.6L1244.3 1241.7L1183.9 1196.9Z" fill="url(#g48)" stroke="url(#g48)"/><path d="M1244.3 1241.7L1238.4 1195L1183.9 1196.9Z" fill="url(#g49)" stroke="url(#g49)"/><path d="M1244.3 1241.7L1312.5 1240.7L1238.4 1195Z" fill="url(#g50)" stroke="url(#g50)"/><path d="M1312.5 1240.7L1320.3 1193L1238.4 1195Z" fill="url(#g51)" stroke="url(#g51)"/><path d="M1312.5 1240.7L1394.3 1196.9L1320.3 1193Z" fill="url(#g52)" stroke="url(#g52)"/><path d="M1312.5 1240.7L1406 1245.6L1394.3 1196.9Z" fill="url(#g53)" stroke="url(#g53)"/><path d="M1406 1245.6L1435.2 1233.9L1394.3 1196.9Z" fill="url(#g54)" stroke="url(#g54)"/><path d="M1435.2 1233.9L1423.5 1186.2L1394.3 1196.9Z" fill="url(#g55)" stroke="url(#g55)"/><path d="M1183.9 1196.9L1238.4 1195L1193.6 1148.2Z" fill="url(#g56)" stroke="url(#g56)"/><path d="M1238.4 1195L1258 1149.2L1193.6 1148.2Z" fill="url(#g57)" stroke="url(#g57)"/><path d="M1238.4 1195L1320.3 1193L1258 1149.2Z" fill="url(#g58)" stroke="url(#g58)"/><path d="M1320.3 1193L1326 1147.2L1258 1149.2Z" fill="url(#g59)" stroke="url(#g59)"/><path d="M1320.3 1193L1384.6 1147.2L1326 1147.2Z" fill="url(#g60)" stroke="url(#g60)"/><path d="M1320.3 1193L1394.3 1196.9L1384.6 1147.2Z" fill="url(#g61)" stroke="url(#g61)"/><path d="M1394.3 1196.9L1423.5 1186.2L1384.6 1147.2Z" fill="url(#g62)" stroke="url(#g62)"/><path d="M1423.5 1186.2L1412.8 1135.5L1384.6 1147.2Z" fill="url(#g63)" stroke="url(#g63)"/><path d="M1193.6 1148.2L1258 1149.2L1201.4 1100Z" fill="url(#g64)" stroke="url(#g64)"/><path d="M1258 1149.2L1265.7 1103L1201.4 1100Z" fill="url(#g65)" stroke="url(#g65)"/><path d="M1258 1149.2L1326 1147.2L1265.7 1103Z" fill="url(#g66)" stroke="url(#g66)"/><path d="M1326 1147.2L1332 1099L1265.7 1103Z" fill="url(#g67)" stroke="url(#g67)"/><path d="M1326 1147.2L1376.8 1100L1332 1099Z" fill="url(#g68)" stroke="url(#g68)"/><path d="M1326 1147.2L1384.6 1147.2L1376.8 1100Z" fill="url(#g69)" stroke="url(#g69)"/><path d="M1384.6 1147.2L1412.8 1135.5L1376.8 1100Z" fill="url(#g70)" stroke="url(#g70)"/><path d="M1412.8 1135.5L1404 1089.4L1376.8 1100Z" fill="url(#g71)" stroke="url(#g71)"/><path d="M1201.4 1100L1263.8 1056.2L1213 1052.4Z" fill="url(#g72)" stroke="url(#g72)"/><path d="M1201.4 1100L1265.7 1103L1263.8 1056.2Z" fill="url(#g73)" stroke="url(#g73)"/><path d="M1265.7 1103L1297 1055.9L1263.8 1056.2Z" fill="url(#g74)" stroke="url(#g74)"/><path d="M1265.7 1103L1332 1099L1297 1055.9Z" fill="url(#g75)" stroke="url(#g75)"/><path d="M1332 1099L1335.9 1052.4L1297 1055.9Z" fill="url(#g76)" stroke="url(#g76)"/><path d="M1332 1099L1367 1052.4L1335.9 1052.4Z" fill="url(#g77)" stroke="url(#g77)"/><path d="M1332 1099L1376.8 1100L1367 1052.4Z" fill="url(#g78)" stroke="url(#g78)"/><path d="M1376.8 1100L1404 1089.4L1367 1052.4Z" fill="url(#g79)" stroke="url(#g79)"/><path d="M1404 1089.4L1396.3 1042.6L1367 1052.4Z" fill="url(#g80)" stroke="url(#g80)"/><path d="M1213 1052.4L1265.7 1010.5L1219 1005.6Z" fill="url(#g81)" stroke="url(#g81)"/><path d="M1213 1052.4L1263.8 1056.2L1265.7 1010.5Z" fill="url(#g82)" stroke="url(#g82)"/><path d="M1263.8 1056.2L1297 1009.5L1265.7 1010.5Z" fill="url(#g83)" stroke="url(#g83)"/><path d="M1263.8 1056.2L1297 1055.9L1297 1009.5Z" fill="url(#g84)" stroke="url(#g84)"/><path d="M1297 1055.9L1335.9 1052.4L1297 1009.5Z" fill="url(#g85)" stroke="url(#g85)"/><path d="M1335.9 1052.4L1341.7 1006.6L1297 1009.5Z" fill="url(#g86)" stroke="url(#g86)"/><path d="M1335.9 1052.4L1355.3 1005.6L1341.7 1006.6Z" fill="url(#g87)" stroke="url(#g87)"/><path d="M1335.9 1052.4L1367 1052.4L1355.3 1005.6Z" fill="url(#g88)" stroke="url(#g88)"/><path d="M1367 1052.4L1396.3 1042.6L1355.3 1005.6Z" fill="url(#g89)" stroke="url(#g89)"/><path d="M1396.3 1042.6L1389.4 994.9L1355.3 1005.6Z" fill="url(#g90)" stroke="url(#g90)"/><path d="M1219 1005.6L1265.7 1010.5L1225.8 956.9Z" fill="url(#g91)" stroke="url(#g91)"/><path d="M1265.7 1010.5L1273.5 963.7L1225.8 956.9Z" fill="url(#g92)" stroke="url(#g92)"/><path d="M1265.7 1010.5L1289 963L1273.5 963.7Z" fill="url(#g93)" stroke="url(#g93)"/><path d="M1265.7 1010.5L1297 1009.5L1289 963Z" fill="url(#g94)" stroke="url(#g94)"/><path d="M1297 1009.5L1341.7 1006.6L1289 963Z" fill="url(#g95)" stroke="url(#g95)"/><path d="M1341.7 1006.6L1345.6 957.9L1289 963Z" fill="url(#g96)" stroke="url(#g96)"/><path d="M1341.7 1006.6L1355.3 1005.6L1345.6 957.9Z" fill="url(#g97)" stroke="url(#g97)"/><path d="M1355.3 1005.6L1389.4 994.9L1345.6 957.9Z" fill="url(#g98)" stroke="url(#g98)"/><path d="M1389.4 994.9L1380.7 947.5L1345.6 957.9Z" fill="url(#g99)" stroke="url(#g99)"/><path d="M1225.8 956.9L1263.8 915L1234.5 907.2Z" fill="url(#g100)" stroke="url(#g100)"/><path d="M1225.8 956.9L1273.5 963.7L1263.8 915Z" fill="url(#g101)" stroke="url(#g101)"/><path d="M1273.5 963.7L1283.3 916L1263.8 915Z" fill="url(#g102)" stroke="url(#g102)"/><path d="M1273.5 963.7L1289 963L1283.3 916Z" fill="url(#g103)" stroke="url(#g103)"/><path d="M1289 963L1310.5 913L1283.3 916Z" fill="url(#g104)" stroke="url(#g104)"/><path d="M1289 963L1324.2 907.2L1310.5 913Z" fill="url(#g105)" stroke="url(#g105)"/><path d="M1289 963L1345.6 902.3L1324.2 907.2Z" fill="url(#g106)" stroke="url(#g106)"/><path d="M1289 963L1345.6 957.9L1345.6 902.3Z" fill="url(#g107)" stroke="url(#g107)"/><path d="M1345.6 957.9L1380.7 947.5L1345.6 902.3Z" fill="url(#g108)" stroke="url(#g108)"/><path d="M1380.7 947.5L1378.7 930.6L1345.6 902.3Z" fill="url(#g109)" stroke="url(#g109)"/><path d="M1234.5 907.2L1263.8 915L1242.3 859.5Z" fill="url(#g110)" stroke="url(#g110)"/><path d="M1263.8 915L1283.3 916L1242.3 859.5Z" fill="url(#g111)" stroke="url(#g111)"/><path d="M1283.3 916L1310.5 913L1242.3 859.5Z" fill="url(#g112)" stroke="url(#g112)"/><path d="M1310.5 913L1324.2 907.2L1242.3 859.5Z" fill="url(#g113)" stroke="url(#g113)"/><path d="M1324.2 907.2L1310.5 874.1L1242.3 859.5Z" fill="url(#g114)" stroke="url(#g114)"/><path d="M1324.2 907.2L1345.6 902.3L1310.5 874.1Z" fill="url(#g115)" stroke="url(#g115)"/><path d="M1345.6 902.3L1378.7 930.6L1310.5 874.1Z" fill="url(#g116)" stroke="url(#g116)"/><path d="M1378.7 930.6L1344 902L1310.5 874.1Z" fill="url(#g117)" stroke="url(#g117)"/></g>
<path d="M1263.8 1291.4L1216 1300M1263.8 1291.4L1263.8 1291.4M1297 1290.4L1263.8 1291.4M1297 1290.4L1297 1290.4M1297 1290.4L1297 1290.4M1419.6 1294.3L1297 1290.4M1444 1277.7L1419.6 1294.3M1444 1277.7L1444 1277.7M1244.3 1241.7L1191.7 1246.6M1244.3 1241.7L1244.3 1241.7M1312.5 1240.7L1244.3 1241.7M1312.5 1240.7L1312.5 1240.7M1312.5 1240.7L1312.5 1240.7M1406 1245.6L1312.5 1240.7M1435.2 1233.9L1406 1245.6M1435.2 1233.9L1435.2 1233.9M1238.4 1195L1183.9 1196.9M1238.4 1195L1238.4 1195M1320.3 1193L1238.4 1195M1320.3 1193L1320.3 1193M1320.3 1193L1320.3 1193M1394.3 1196.9L1320.3 1193M1423.5 1186.2L1394.3 1196.9M1423.5 1186.2L1423.5 1186.2M1258 1149.2L1193.6 1148.2M1258 1149.2L1258 1149.2M1326 1147.2L1258 1149.2M1326 1147.2L1326 1147.2M1326 1147.2L1326 1147.2M1384.6 1147.2L1326 1147.2M1412.8 1135.5L1384.6 1147.2M1412.8 1135.5L1412.8 1135.5M1201.4 1100L1201.4 1100M1265.7 1103L1201.4 1100M1265.7 1103L1265.7 1103M1332 1099L1265.7 1103M1332 1099L1332 1099M1332 1099L1332 1099M1376.8 1100L1332 1099M1404 1089.4L1376.8 1100M1404 1089.4L1404 1089.4M1213 1052.4L1213 1052.4M1263.8 1056.2L1213 1052.4M1263.8 1056.2L1263.8 1056.2M1297 1055.9L1263.8 1056.2M1335.9 1052.4L1297 1055.9M1335.9 1052.4L1335.9 1052.4M1335.9 1052.4L1335.9 1052.4M1367 1052.4L1335.9 1052.4M1396.3 1042.6L1367 1052.4M1396.3 1042.6L1396.3 1042.6M1265.7 1010.5L1219 1005.6M1265.7 1010.5L1265.7 1010.5M1265.7 1010.5L1265.7 1010.5M1297 1009.5L1265.7 1010.5M1341.7 1006.6L1297 1009.5M1341.7 1006.6L1341.7 1006.6M1355.3 1005.6L1341.7 1006.6M1389.4 994.9L1355.3 1005.6M1389.4 994.9L1389.4 994.9M1225.8 956.9L1225.8 956.9M1273.5 963.7L1225.8 956.9M1273.5 963.7L1273.5 963.7M1289 963L1273.5 963.7M1289 963L1289 963M1289 963L1289 963M1289 963L1289 963M1345.6 957.9L1289 963M1380.7 947.5L1345.6 957.9M1380.7 947.5L1380.7 947.5M1263.8 915L1234.5 907.2M1283.3 916L1263.8 915M1310.5 913L1283.3 916M1324.2 907.2L1310.5 913M1324.2 907.2L1324.2 907.2M1345.6 902.3L1324.2 907.2M1347.9 905.1L1345.6 902.3M1344 902L1347.9 905.1" stroke="#484848" stroke-width="2.3" fill="none" stroke-linecap="round"/>
<g fill="none" stroke="#9a9a9a" stroke-width="1.9"><polyline points="1310.5,874.1 1347.5,961.8"/><polyline points="1378.7,930.6 1347.5,961.8"/><polyline points="1347.5,961.8 1285.7,1339.6"/><polyline points="1347.5,961.8 1423,1295"/><polyline points="1242.3,859.5 1214.3,1040 1285.7,1339.6"/><polyline points="1214.3,1040 1184,1136.5 1104,1220 1079,1312"/><polyline points="1147,1197 1112,1310"/><polyline points="1147,1197 1216,1323.5"/><polyline points="1216,1323.5 1250,1352 1285.7,1339.6 1389,1334 1423,1295 1444,1277.7"/></g>
<line x1="421.2" y1="181.6" x2="469.3" y2="1312.5" stroke="#000" stroke-width="4.2" stroke-linecap="square"/>
<line x1="469.3" y1="1312.5" x2="1351.3" y2="1637.4" stroke="#000" stroke-width="4.2" stroke-linecap="square"/>
<line x1="1351.3" y1="1637.4" x2="2055.3" y2="1269.5" stroke="#000" stroke-width="3.6" stroke-linecap="square"/>
<g><line x1="469.3" y1="1312.5" x2="451.5" y2="1319.2" stroke="#000" stroke-width="3.4" stroke-linecap="butt"/><line x1="464.7" y1="1205.7" x2="446.8" y2="1212" stroke="#000" stroke-width="3.4" stroke-linecap="butt"/><line x1="460.1" y1="1097.5" x2="442.1" y2="1103.5" stroke="#000" stroke-width="3.4" stroke-linecap="butt"/><line x1="455.5" y1="988" x2="437.4" y2="993.6" stroke="#000" stroke-width="3.4" stroke-linecap="butt"/><line x1="450.8" y1="877.1" x2="432.5" y2="882.4" stroke="#000" stroke-width="3.4" stroke-linecap="butt"/><line x1="446" y1="764.8" x2="427.7" y2="769.8" stroke="#000" stroke-width="3.4" stroke-linecap="butt"/><line x1="441.2" y1="651.1" x2="422.7" y2="655.7" stroke="#000" stroke-width="3.4" stroke-linecap="butt"/><line x1="436.3" y1="536" x2="417.7" y2="540.2" stroke="#000" stroke-width="3.4" stroke-linecap="butt"/><line x1="431.3" y1="419.3" x2="412.7" y2="423.2" stroke="#000" stroke-width="3.4" stroke-linecap="butt"/><line x1="426.3" y1="301.2" x2="407.6" y2="304.6" stroke="#000" stroke-width="3.4" stroke-linecap="butt"/><line x1="421.2" y1="181.6" x2="402.4" y2="184.6" stroke="#000" stroke-width="3.4" stroke-linecap="butt"/><line x1="475.3" y1="1314.7" x2="457.5" y2="1321.4" stroke="#000" stroke-width="3.4" stroke-linecap="butt"/><line x1="519.5" y1="1331" x2="510.2" y2="1334.6" stroke="#000" stroke-width="3.4" stroke-linecap="butt"/><line x1="564.5" y1="1347.6" x2="546.8" y2="1354.5" stroke="#000" stroke-width="3.4" stroke-linecap="butt"/><line x1="610.2" y1="1364.4" x2="600.9" y2="1368.1" stroke="#000" stroke-width="3.4" stroke-linecap="butt"/><line x1="656.7" y1="1381.5" x2="639" y2="1388.6" stroke="#000" stroke-width="3.4" stroke-linecap="butt"/><line x1="703.9" y1="1398.9" x2="694.6" y2="1402.7" stroke="#000" stroke-width="3.4" stroke-linecap="butt"/><line x1="751.9" y1="1416.6" x2="734.4" y2="1423.9" stroke="#000" stroke-width="3.4" stroke-linecap="butt"/><line x1="800.7" y1="1434.6" x2="791.5" y2="1438.5" stroke="#000" stroke-width="3.4" stroke-linecap="butt"/><line x1="850.4" y1="1452.9" x2="832.9" y2="1460.4" stroke="#000" stroke-width="3.4" stroke-linecap="butt"/><line x1="900.9" y1="1471.5" x2="891.7" y2="1475.5" stroke="#000" stroke-width="3.4" stroke-linecap="butt"/><line x1="952.3" y1="1490.4" x2="934.9" y2="1498.2" stroke="#000" stroke-width="3.4" stroke-linecap="butt"/><line x1="1004.6" y1="1509.7" x2="995.5" y2="1513.9" stroke="#000" stroke-width="3.4" stroke-linecap="butt"/><line x1="1057.8" y1="1529.3" x2="1040.6" y2="1537.3" stroke="#000" stroke-width="3.4" stroke-linecap="butt"/><line x1="1111.9" y1="1549.2" x2="1102.9" y2="1553.6" stroke="#000" stroke-width="3.4" stroke-linecap="butt"/><line x1="1167.1" y1="1569.6" x2="1150" y2="1577.9" stroke="#000" stroke-width="3.4" stroke-linecap="butt"/><line x1="1223.2" y1="1590.2" x2="1214.2" y2="1594.7" stroke="#000" stroke-width="3.4" stroke-linecap="butt"/><line x1="1280.4" y1="1611.3" x2="1263.4" y2="1619.9" stroke="#000" stroke-width="3.4" stroke-linecap="butt"/><line x1="1338.6" y1="1632.7" x2="1329.7" y2="1637.3" stroke="#000" stroke-width="3.4" stroke-linecap="butt"/><line x1="1388" y1="1618.3" x2="1397.4" y2="1621.7" stroke="#000" stroke-width="3.4" stroke-linecap="butt"/><line x1="1434.7" y1="1593.9" x2="1452.6" y2="1600.2" stroke="#000" stroke-width="3.4" stroke-linecap="butt"/><line x1="1480.5" y1="1569.9" x2="1489.9" y2="1573.3" stroke="#000" stroke-width="3.4" stroke-linecap="butt"/><line x1="1525.3" y1="1546.5" x2="1543.2" y2="1552.7" stroke="#000" stroke-width="3.4" stroke-linecap="butt"/><line x1="1569.1" y1="1523.6" x2="1578.6" y2="1526.8" stroke="#000" stroke-width="3.4" stroke-linecap="butt"/><line x1="1612.1" y1="1501.1" x2="1630.1" y2="1507.2" stroke="#000" stroke-width="3.4" stroke-linecap="butt"/><line x1="1654.2" y1="1479.1" x2="1663.7" y2="1482.3" stroke="#000" stroke-width="3.4" stroke-linecap="butt"/><line x1="1695.5" y1="1457.6" x2="1713.6" y2="1463.4" stroke="#000" stroke-width="3.4" stroke-linecap="butt"/><line x1="1736" y1="1436.4" x2="1745.5" y2="1439.4" stroke="#000" stroke-width="3.4" stroke-linecap="butt"/><line x1="1775.6" y1="1415.7" x2="1793.8" y2="1421.4" stroke="#000" stroke-width="3.4" stroke-linecap="butt"/><line x1="1814.5" y1="1395.4" x2="1824.1" y2="1398.3" stroke="#000" stroke-width="3.4" stroke-linecap="butt"/><line x1="1852.7" y1="1375.4" x2="1870.8" y2="1380.9" stroke="#000" stroke-width="3.4" stroke-linecap="butt"/><line x1="1890.1" y1="1355.9" x2="1899.7" y2="1358.7" stroke="#000" stroke-width="3.4" stroke-linecap="butt"/><line x1="1926.8" y1="1336.7" x2="1945" y2="1342" stroke="#000" stroke-width="3.4" stroke-linecap="butt"/><line x1="1962.8" y1="1317.8" x2="1972.5" y2="1320.6" stroke="#000" stroke-width="3.4" stroke-linecap="butt"/><line x1="1998.2" y1="1299.4" x2="2016.5" y2="1304.6" stroke="#000" stroke-width="3.4" stroke-linecap="butt"/><line x1="2032.9" y1="1281.2" x2="2042.6" y2="1283.9" stroke="#000" stroke-width="3.4" stroke-linecap="butt"/></g>
<g font-weight="bold"><text transform="matrix(0.5246 -0.1967 0.0284 0.6406 438 1324.3)" font-size="100" text-anchor="end" y="36" >0</text><text transform="matrix(0.5283 -0.1873 0.0288 0.6485 433.2 1216.8)" font-size="100" text-anchor="end" y="36" >2,000</text><text transform="matrix(0.5321 -0.1777 0.0291 0.6566 428.4 1108.1)" font-size="100" text-anchor="end" y="36" >4,000</text><text transform="matrix(0.5359 -0.1678 0.0295 0.6648 423.5 998)" font-size="100" text-anchor="end" y="36" >6,000</text><text transform="matrix(0.5397 -0.1577 0.0299 0.6731 418.6 886.5)" font-size="100" text-anchor="end" y="36" >8,000</text><text transform="matrix(0.5436 -0.1472 0.0302 0.6817 413.6 773.6)" font-size="100" text-anchor="end" y="36" >10,000</text><text transform="matrix(0.5476 -0.1365 0.0306 0.6904 408.5 659.2)" font-size="100" text-anchor="end" y="36" >12,000</text><text transform="matrix(0.5516 -0.1256 0.0310 0.6992 403.4 543.4)" font-size="100" text-anchor="end" y="36" >14,000</text><text transform="matrix(0.5557 -0.1143 0.0314 0.7083 398.2 426.2)" font-size="100" text-anchor="end" y="36" >16,000</text><text transform="matrix(0.5599 -0.1027 0.0318 0.7175 392.9 307.3)" font-size="100" text-anchor="end" y="36" >18,000</text><text transform="matrix(0.5641 -0.0908 0.0322 0.7269 387.5 187)" font-size="100" text-anchor="end" y="36" >20,000</text><text transform="matrix(0.5373 -0.2019 0.4685 0.1745 445.8 1325.8)" font-size="100" text-anchor="end" y="45" >14,000</text><text transform="matrix(0.5370 -0.2086 0.4839 0.1802 535 1359.1)" font-size="100" text-anchor="end" y="45" >16,000</text><text transform="matrix(0.5363 -0.2156 0.5001 0.1862 627.2 1393.4)" font-size="100" text-anchor="end" y="45" >18,000</text><text transform="matrix(0.5353 -0.2230 0.5171 0.1926 722.5 1428.9)" font-size="100" text-anchor="end" y="45" >20,000</text><text transform="matrix(0.5339 -0.2308 0.5350 0.1992 821 1465.6)" font-size="100" text-anchor="end" y="45" >22,000</text><text transform="matrix(0.5321 -0.2390 0.5538 0.2062 923 1503.6)" font-size="100" text-anchor="end" y="45" >24,000</text><text transform="matrix(0.5298 -0.2476 0.5737 0.2136 1028.7 1542.9)" font-size="100" text-anchor="end" y="45" >26,000</text><text transform="matrix(0.5269 -0.2567 0.5946 0.2214 1138.1 1583.7)" font-size="100" text-anchor="end" y="45" >28,000</text><text transform="matrix(0.5235 -0.2663 0.6167 0.2296 1251.6 1625.9)" font-size="100" text-anchor="end" y="45" >30,000</text><text transform="matrix(0.6231 0.2223 -0.4941 0.2617 1469.5 1606.3)" font-size="100" text-anchor="start" y="36" >22,000</text><text transform="matrix(0.6185 0.2132 -0.4736 0.2509 1559.8 1558.4)" font-size="100" text-anchor="start" y="36" >24,000</text><text transform="matrix(0.6138 0.2046 -0.4545 0.2407 1646.4 1512.6)" font-size="100" text-anchor="start" y="36" >26,000</text><text transform="matrix(0.6090 0.1966 -0.4364 0.2312 1729.5 1468.5)" font-size="100" text-anchor="start" y="36" >28,000</text><text transform="matrix(0.6041 0.1889 -0.4194 0.2222 1809.4 1426.2)" font-size="100" text-anchor="start" y="36" >30,000</text><text transform="matrix(0.5991 0.1818 -0.4034 0.2137 1886.1 1385.6)" font-size="100" text-anchor="start" y="36" >32,000</text><text transform="matrix(0.5941 0.1750 -0.3883 0.2057 1960 1346.4)" font-size="100" text-anchor="start" y="36" >34,000</text><text transform="matrix(0.5890 0.1686 -0.3740 0.1981 2031.1 1308.8)" font-size="100" text-anchor="start" y="36" >36,000</text></g>
<g font-weight="bold"><text transform="matrix(0.5176 0.2132 -0.5581 0.2472 612.4 1610.9)" font-size="100" text-anchor="middle" y="36" >X axis (<tspan font-weight="normal">µ</tspan>m)</text><text transform="matrix(0.3934 -0.2337 0.6297 0.2016 2033.7 1549.1)" font-size="100" text-anchor="middle" y="36" >Y axis (<tspan font-weight="normal">µ</tspan>m)</text><text transform="matrix(0.0448 0.7767 -0.6713 0.1813 178.3 833)" font-size="100" text-anchor="middle" y="36" >Integral/<tspan font-weight="normal">µ</tspan>m<tspan font-size="62" dy="-38">2</tspan><tspan dy="38"> (cts/</tspan><tspan font-weight="normal">µ</tspan><tspan>m</tspan><tspan font-size="62" dy="-38">2</tspan><tspan dy="38">)</tspan></text></g>
<g><line x1="578.6" y1="3063.3" x2="536.2" y2="1940" stroke="#c9c9c9" stroke-width="2.1" stroke-linecap="butt"/><line x1="673.8" y1="3027.4" x2="638.1" y2="1923.4" stroke="#c9c9c9" stroke-width="2.1" stroke-linecap="butt"/><line x1="765.6" y1="2992.7" x2="736.1" y2="1907.5" stroke="#c9c9c9" stroke-width="2.1" stroke-linecap="butt"/><line x1="854.2" y1="2959.3" x2="830.6" y2="1892.1" stroke="#c9c9c9" stroke-width="2.1" stroke-linecap="butt"/><line x1="939.7" y1="2927" x2="921.5" y2="1877.4" stroke="#c9c9c9" stroke-width="2.1" stroke-linecap="butt"/><line x1="1022.3" y1="2895.8" x2="1009.3" y2="1863.1" stroke="#c9c9c9" stroke-width="2.1" stroke-linecap="butt"/><line x1="1102.2" y1="2865.6" x2="1093.9" y2="1849.3" stroke="#c9c9c9" stroke-width="2.1" stroke-linecap="butt"/><line x1="1179.5" y1="2836.4" x2="1175.7" y2="1836.1" stroke="#c9c9c9" stroke-width="2.1" stroke-linecap="butt"/><line x1="1253.8" y1="2814.7" x2="1254.1" y2="1826.2" stroke="#c4c4c4" stroke-width="1.8" stroke-linecap="butt"/><line x1="1341.5" y1="2839.3" x2="1346.7" y2="1837.6" stroke="#c4c4c4" stroke-width="1.8" stroke-linecap="butt"/><line x1="1431.6" y1="2864.7" x2="1442" y2="1849.4" stroke="#c4c4c4" stroke-width="1.8" stroke-linecap="butt"/><line x1="1524.4" y1="2890.7" x2="1540.3" y2="1861.5" stroke="#c4c4c4" stroke-width="1.8" stroke-linecap="butt"/><line x1="1619.9" y1="2917.5" x2="1641.6" y2="1874" stroke="#c4c4c4" stroke-width="1.8" stroke-linecap="butt"/><line x1="1718.2" y1="2945.1" x2="1746" y2="1886.9" stroke="#c4c4c4" stroke-width="1.8" stroke-linecap="butt"/><line x1="1819.4" y1="2973.6" x2="1853.9" y2="1900.1" stroke="#c4c4c4" stroke-width="1.8" stroke-linecap="butt"/><line x1="1923.8" y1="3002.9" x2="1965.1" y2="1913.9" stroke="#c4c4c4" stroke-width="1.8" stroke-linecap="butt"/><line x1="2031.3" y1="3033.1" x2="2080.1" y2="1928" stroke="#c4c4c4" stroke-width="1.8" stroke-linecap="butt"/><line x1="490.3" y1="2987.2" x2="1244.1" y2="2718" stroke="#c9c9c9" stroke-width="2.1" stroke-linecap="butt"/><line x1="1244.1" y1="2718" x2="2098.7" y2="2945.1" stroke="#c4c4c4" stroke-width="1.8" stroke-linecap="butt"/><line x1="485.7" y1="2878.1" x2="1244.1" y2="2622.9" stroke="#c9c9c9" stroke-width="2.1" stroke-linecap="butt"/><line x1="1244.1" y1="2622.9" x2="2103.7" y2="2838.4" stroke="#c4c4c4" stroke-width="1.8" stroke-linecap="butt"/><line x1="481" y1="2767.6" x2="1244" y2="2526.9" stroke="#c9c9c9" stroke-width="2.1" stroke-linecap="butt"/><line x1="1244" y1="2526.9" x2="2108.9" y2="2730.4" stroke="#c4c4c4" stroke-width="1.8" stroke-linecap="butt"/><line x1="476.2" y1="2655.8" x2="1244" y2="2429.8" stroke="#c9c9c9" stroke-width="2.1" stroke-linecap="butt"/><line x1="1244" y1="2429.8" x2="2114.1" y2="2621" stroke="#c4c4c4" stroke-width="1.8" stroke-linecap="butt"/><line x1="471.4" y1="2542.6" x2="1244" y2="2331.7" stroke="#c9c9c9" stroke-width="2.1" stroke-linecap="butt"/><line x1="1244" y1="2331.7" x2="2119.4" y2="2510.4" stroke="#c4c4c4" stroke-width="1.8" stroke-linecap="butt"/><line x1="466.5" y1="2427.9" x2="1244" y2="2232.5" stroke="#c9c9c9" stroke-width="2.1" stroke-linecap="butt"/><line x1="1244" y1="2232.5" x2="2124.7" y2="2398.4" stroke="#c4c4c4" stroke-width="1.8" stroke-linecap="butt"/><line x1="461.6" y1="2311.8" x2="1244" y2="2132.3" stroke="#c9c9c9" stroke-width="2.1" stroke-linecap="butt"/><line x1="1244" y1="2132.3" x2="2130.1" y2="2285" stroke="#c4c4c4" stroke-width="1.8" stroke-linecap="butt"/><line x1="456.6" y1="2194.3" x2="1243.9" y2="2031" stroke="#c9c9c9" stroke-width="2.1" stroke-linecap="butt"/><line x1="1243.9" y1="2031" x2="2135.6" y2="2170.2" stroke="#c4c4c4" stroke-width="1.8" stroke-linecap="butt"/><line x1="451.5" y1="2075.2" x2="1243.9" y2="1928.5" stroke="#c9c9c9" stroke-width="2.1" stroke-linecap="butt"/><line x1="1243.9" y1="1928.5" x2="2141.1" y2="2053.9" stroke="#c4c4c4" stroke-width="1.8" stroke-linecap="butt"/></g>
<line x1="446.4" y1="1954.6" x2="1243.9" y2="1825" stroke="#111" stroke-width="2.1" stroke-linecap="butt"/>
<line x1="1243.9" y1="1825" x2="2146.8" y2="1936.2" stroke="#111" stroke-width="2.1" stroke-linecap="butt"/>
<line x1="1243.9" y1="1825" x2="1244.1" y2="2812" stroke="#111" stroke-width="2.6" stroke-linecap="butt"/>
<line x1="2146.8" y1="1936.2" x2="2093.6" y2="3050.6" stroke="#111" stroke-width="2.3" stroke-linecap="butt"/>
<rect x="935" y="2035" width="650" height="115" fill="#fff"/><text x="947" y="2126" font-size="83.3" font-weight="bold">5s incorporated</text>
<path d="M494.9 3094.9L1346.1 3410.1Q1380.7 3418.4 1412.6 3409.7L2093.6 3050.6L2014.3 3024.3L1936.5 3002.6L1860.5 2981.2L1786.1 2960.4L1713.3 2940L1642 2920L1572.2 2900.4L1503.9 2881.3L1436.9 2862.5L1371.3 2844.2L1307.1 2826.1L1244.1 2808.5L1189.8 2829L1134.2 2849.9L1077.2 2871.4L1018.9 2893.4L959 2915.9L897.7 2939L834.8 2962.7L770.3 2987.1L704.1 3012L636.2 3037.6L566.4 3063.9 Z" fill="#8e008e"/>
<g fill="#7c007c" opacity="0.6"><polygon points="1416.5,3371.1 1416.4,3364.9 1402.7,3354.6 1376.3,3340.9 1338.8,3324.5 1292.5,3306.4 1239.8,3287.4 1183.7,3268.7 1127,3251.1 1072.4,3235.4 1022.4,3222.3 979.2,3212.4 944.7,3206.1 920.4,3203.6 907.4,3205.1 906.1,3210.4 916.9,3219.4 939.3,3231.7 972.5,3246.8 1015.1,3264 1065.3,3282.5 1120.7,3301.5 1178.7,3320 1236.3,3336.9 1290.3,3351.4 1337.8,3362.6 1376,3369.9 1402.8,3372.8"/><polygon points="1559.7,3329.4 1596.9,3309.3 1630.5,3290.3 1658.9,3273 1681.1,3258.4 1696,3247 1703.1,3239.3 1702.2,3235.7 1693.3,3236.1 1676.9,3240.8 1653.6,3249.3 1624.4,3261.5 1590.6,3276.8 1553.6,3294.6 1515.2,3314 1477.2,3334.1 1441.6,3354 1410.3,3372.6 1385.1,3388.8 1367.5,3401.7 1358.6,3410.6 1361.5,3413.5 1368.6,3414.3 1387.1,3408.9 1413.2,3399 1445.4,3385.2 1482,3368.4 1520.8,3349.4"/><polygon points="1864.6,3091.5 1889.7,3073.9 1910.1,3056.8 1924.9,3041 1933.6,3027.1 1935.9,3015.8 1931.9,3007.6 1920.5,3003.4 1905.8,3001.5 1885,3003.9 1860.3,3009.8 1832.6,3019.1 1803.2,3031.2 1773.5,3045.8 1744.8,3062.1 1718.7,3079.5 1696.4,3097 1679.2,3113.8 1668.2,3128.9 1664.1,3141.5 1667.3,3150.9 1677.6,3156.5 1694.5,3158 1717.2,3155.2 1744.3,3148.3 1774.3,3137.8 1805.4,3124.3 1836.1,3108.6"/><polygon points="1006.9,3074.4 1005.1,3071.1 1000.5,3068.2 993.5,3065.6 984.2,3063.6 973.3,3062.2 961.3,3061.5 948.7,3061.5 936.1,3062.3 924.3,3063.8 913.7,3065.9 904.9,3068.5 898.3,3071.5 894.3,3074.8 893.1,3078.2 894.7,3081.4 899.1,3084.4 906.2,3087.1 915.4,3089.1 926.4,3090.6 938.6,3091.3 951.4,3091.2 964.1,3090.4 976.1,3088.9 986.8,3086.8 995.6,3084.1 1002,3081 1005.9,3077.7"/></g>
<ellipse cx="1277" cy="3072" rx="330" ry="135" fill="url(#glow2)"/>
<g fill="none" stroke="#a193a1" stroke-width="1.8" stroke-linejoin="round"><polyline points="494.9,3094.9 559.5,3118.9 625.6,3143.3 693.3,3168.4 762.7,3194.1 833.8,3220.4 906.6,3247.4 981.2,3275 1057.8,3303.4 1136.4,3332.4 1217,3362.3 1299.7,3392.9 1384.7,3424.4"/><polyline points="566.4,3063.9 630.9,3086.2 696.9,3106 764.6,3134.2 833.8,3154.4 904.9,3187.9 977.5,3211.5 1052,3237.1 1128.3,3263.1 1206.6,3292.4 1286.9,3320.8 1369.3,3350.4 1453.9,3387.9"/><polyline points="636.2,3037.6 700.5,3054.4 766.6,3081 834.2,3106.6 903.3,3133.9 974,3153.2 1046.4,3171.6 1120.8,3210.5 1196.8,3229.9 1274.8,3264.2 1354.8,3281.5 1436.9,3311.7 1520.9,3352.5"/><polyline points="704.1,3012 768.5,3033.7 834.4,3057.1 901.8,3078.6 970.6,3098.3 1041.1,3114.4 1113.5,3143.8 1187.5,3171 1263.4,3191.9 1341.1,3221.4 1420.7,3250.4 1502.3,3283.7 1586,3318.2"/><polyline points="770.3,2987.1 834.5,3001.8 900.2,3023.1 967.6,3054.2 1036.4,3078 1106.7,3089.8 1178.7,3101.3 1252.5,3128 1328.1,3156.1 1405.4,3200.7 1484.6,3228.3 1565.9,3254.3 1649.1,3285"/><polyline points="834.8,2962.7 899,2981 964.6,3004.7 1031.7,3027.2 1100.1,3037.2 1170.3,3040.7 1242.2,3060 1315.7,3100.3 1390.9,3135.5 1468,3162.2 1546.8,3195.7 1627.7,3217.8 1710.3,3252.7"/><polyline points="897.7,2939 961.7,2955.5 1027.2,2978.1 1094,2987.8 1162.4,3004.4 1232.3,3009.7 1304.1,3015.9 1377.3,3056.6 1452.4,3084.1 1528.9,3123.9 1607.2,3161.6 1687.7,3185.6 1769.8,3221.3"/><polyline points="959,2915.9 1022.9,2930.4 1088.2,2955.5 1154.8,2963.7 1223,2973.8 1292.8,2982.2 1364.3,2990.2 1437.3,3029.4 1511.7,3069.9 1587.9,3102.8 1666,3129 1746.1,3153.2 1827.6,3190.8"/><polyline points="1018.9,2893.4 1082.6,2909.9 1147.6,2928.2 1214.1,2953.2 1282.1,2968.8 1351.6,2977 1422.8,2982 1495.3,3022.1 1569.4,3056.2 1645.4,3079.2 1723,3106.8 1802.8,3124 1883.8,3161.2"/><polyline points="1077.2,2871.4 1140.8,2889.4 1205.7,2906.1 1271.9,2932.3 1339.7,2940.2 1408.8,2970.7 1479.7,2973.9 1552,2998.6 1625.7,3030.8 1701.4,3049.2 1778.6,3079.1 1857.8,3098.5 1938.5,3132.4"/><polyline points="1134.2,2849.9 1197.6,2868.2 1262.2,2883.7 1328.3,2906.9 1395.8,2918.6 1464.6,2948.4 1535.2,2958.1 1607,2986.1 1680.6,3005.9 1755.6,3034.1 1832.8,3046.6 1911.5,3071.6 1991.6,3104.4"/><polyline points="1189.8,2829 1253,2847.3 1317.5,2864.6 1383.3,2879.9 1450.5,2896.6 1519.1,2924.5 1589.2,2944.9 1660.9,2959.2 1734.2,2976.8 1808.9,3002.4 1885.5,3021.1 1963.7,3045.7 2043.3,3077.1"/><polyline points="1244.1,2808.5 1307.1,2826.1 1371.3,2844.2 1436.9,2862.5 1503.9,2881.3 1572.2,2900.4 1642,2920 1713.3,2940 1786.1,2960.4 1860.5,2981.2 1936.5,3002.6 2014.3,3024.3 2093.6,3050.6"/><polyline points="494.9,3094.9 566.4,3063.9 636.2,3037.6 704.1,3012 770.3,2987.1 834.8,2962.7 897.7,2939 959,2915.9 1018.9,2893.4 1077.2,2871.4 1134.2,2849.9 1189.8,2829 1244.1,2808.5"/><polyline points="559.5,3118.9 630.9,3086.2 700.5,3054.4 768.5,3033.7 834.5,3001.8 899,2981 961.7,2955.5 1022.9,2930.4 1082.6,2909.9 1140.8,2889.4 1197.6,2868.2 1253,2847.3 1307.1,2826.1"/><polyline points="625.6,3143.3 696.9,3106 766.6,3081 834.4,3057.1 900.2,3023.1 964.6,3004.7 1027.2,2978.1 1088.2,2955.5 1147.6,2928.2 1205.7,2906.1 1262.2,2883.7 1317.5,2864.6 1371.3,2844.2"/><polyline points="693.3,3168.4 764.6,3134.2 834.2,3106.6 901.8,3078.6 967.6,3054.2 1031.7,3027.2 1094,2987.8 1154.8,2963.7 1214.1,2953.2 1271.9,2932.3 1328.3,2906.9 1383.3,2879.9 1436.9,2862.5"/><polyline points="762.7,3194.1 833.8,3154.4 903.3,3133.9 970.6,3098.3 1036.4,3078 1100.1,3037.2 1162.4,3004.4 1223,2973.8 1282.1,2968.8 1339.7,2940.2 1395.8,2918.6 1450.5,2896.6 1503.9,2881.3"/><polyline points="833.8,3220.4 904.9,3187.9 974,3153.2 1041.1,3114.4 1106.7,3089.8 1170.3,3040.7 1232.3,3009.7 1292.8,2982.2 1351.6,2977 1408.8,2970.7 1464.6,2948.4 1519.1,2924.5 1572.2,2900.4"/><polyline points="906.6,3247.4 977.5,3211.5 1046.4,3171.6 1113.5,3143.8 1178.7,3101.3 1242.2,3060 1304.1,3015.9 1364.3,2990.2 1422.8,2982 1479.7,2973.9 1535.2,2958.1 1589.2,2944.9 1642,2920"/><polyline points="981.2,3275 1052,3237.1 1120.8,3210.5 1187.5,3171 1252.5,3128 1315.7,3100.3 1377.3,3056.6 1437.3,3029.4 1495.3,3022.1 1552,2998.6 1607,2986.1 1660.9,2959.2 1713.3,2940"/><polyline points="1057.8,3303.4 1128.3,3263.1 1196.8,3229.9 1263.4,3191.9 1328.1,3156.1 1390.9,3135.5 1452.4,3084.1 1511.7,3069.9 1569.4,3056.2 1625.7,3030.8 1680.6,3005.9 1734.2,2976.8 1786.1,2960.4"/><polyline points="1136.4,3332.4 1206.6,3292.4 1274.8,3264.2 1341.1,3221.4 1405.4,3200.7 1468,3162.2 1528.9,3123.9 1587.9,3102.8 1645.4,3079.2 1701.4,3049.2 1755.6,3034.1 1808.9,3002.4 1860.5,2981.2"/><polyline points="1217,3362.3 1286.9,3320.8 1354.8,3281.5 1420.7,3250.4 1484.6,3228.3 1546.8,3195.7 1607.2,3161.6 1666,3129 1723,3106.8 1778.6,3079.1 1832.8,3046.6 1885.5,3021.1 1936.5,3002.6"/><polyline points="1299.7,3392.9 1369.3,3350.4 1436.9,3311.7 1502.3,3283.7 1565.9,3254.3 1627.7,3217.8 1687.7,3185.6 1746.1,3153.2 1802.8,3124 1857.8,3098.5 1911.5,3071.6 1963.7,3045.7 2014.3,3024.3"/><polyline points="1384.7,3424.4 1453.9,3387.9 1520.9,3352.5 1586,3318.2 1649.1,3285 1710.3,3252.7 1769.8,3221.3 1827.6,3190.8 1883.8,3161.2 1938.5,3132.4 1991.6,3104.4 2043.3,3077.1 2093.6,3050.6"/></g>
<line x1="1244.1" y1="2808.5" x2="2093.6" y2="3050.6" stroke="#161016" stroke-width="2.8" stroke-linecap="butt"/>
<line x1="512.2" y1="3087.2" x2="1244.1" y2="2808.5" stroke="#20141f" stroke-width="2.2" stroke-linecap="butt"/>
<g stroke-width="1.2" stroke-linejoin="round"><path d="M1360 2784L1395.5 2778.3L1360 2732Z" fill="url(#g118)" stroke="url(#g118)"/><path d="M1395.5 2778.3L1391.6 2728.6L1360 2732Z" fill="url(#g119)" stroke="url(#g119)"/></g>
<g stroke-width="1.2" stroke-linejoin="round"><path d="M1088 2998L1118.4 3027L1100.9 3022Z" fill="url(#g120)" stroke="url(#g120)"/><path d="M1088 2998L1092 3048L1118.4 3027Z" fill="url(#g121)" stroke="url(#g121)"/><path d="M1092 3048L1132 3044.6L1118.4 3027Z" fill="url(#g122)" stroke="url(#g122)"/><path d="M1092 3048L1125 3080L1132 3044.6Z" fill="url(#g123)" stroke="url(#g123)"/><path d="M1125 3080L1173 3048L1132 3044.6Z" fill="url(#g124)" stroke="url(#g124)"/><path d="M1125 3080L1176.9 3064L1173 3048Z" fill="url(#g125)" stroke="url(#g125)"/><path d="M1125 3080L1180 3105L1176.9 3064Z" fill="url(#g126)" stroke="url(#g126)"/><path d="M1180 3105L1221.7 3067L1176.9 3064Z" fill="url(#g127)" stroke="url(#g127)"/><path d="M1180 3105L1239.2 3075.7L1221.7 3067Z" fill="url(#g128)" stroke="url(#g128)"/><path d="M1180 3105L1240 3122L1239.2 3075.7Z" fill="url(#g129)" stroke="url(#g129)"/><path d="M1240 3122L1293.8 3073.8L1239.2 3075.7Z" fill="url(#g130)" stroke="url(#g130)"/><path d="M1240 3122L1300 3122L1293.8 3073.8Z" fill="url(#g131)" stroke="url(#g131)"/><path d="M1300 3122L1370 3106L1293.8 3073.8Z" fill="url(#g132)" stroke="url(#g132)"/><path d="M1370 3106L1360.8 3062L1293.8 3073.8Z" fill="url(#g133)" stroke="url(#g133)"/><path d="M1370 3106L1384.2 3052.4L1360.8 3062Z" fill="url(#g134)" stroke="url(#g134)"/><path d="M1370 3106L1430 3090L1384.2 3052.4Z" fill="url(#g135)" stroke="url(#g135)"/><path d="M1430 3090L1429 3052.4L1384.2 3052.4Z" fill="url(#g136)" stroke="url(#g136)"/><path d="M1430 3090L1472 3062L1429 3052.4Z" fill="url(#g137)" stroke="url(#g137)"/><path d="M1472 3062L1474 3025L1429 3052.4Z" fill="url(#g138)" stroke="url(#g138)"/><path d="M1474 3025L1460 3017.3L1429 3052.4Z" fill="url(#g139)" stroke="url(#g139)"/><path d="M1100.9 3022L1118.4 3027L1103 2957Z" fill="url(#g140)" stroke="url(#g140)"/><path d="M1118.4 3027L1125 2972L1103 2957Z" fill="url(#g141)" stroke="url(#g141)"/><path d="M1118.4 3027L1132 3044.6L1125 2972Z" fill="url(#g142)" stroke="url(#g142)"/><path d="M1132 3044.6L1143.8 2974.4L1125 2972Z" fill="url(#g143)" stroke="url(#g143)"/><path d="M1132 3044.6L1163.3 2985L1143.8 2974.4Z" fill="url(#g144)" stroke="url(#g144)"/><path d="M1132 3044.6L1173 3048L1163.3 2985Z" fill="url(#g145)" stroke="url(#g145)"/><path d="M1173 3048L1176.9 3064L1163.3 2985Z" fill="url(#g146)" stroke="url(#g146)"/><path d="M1176.9 3064L1210 2988L1163.3 2985Z" fill="url(#g147)" stroke="url(#g147)"/><path d="M1176.9 3064L1221.7 3067L1210 2988Z" fill="url(#g148)" stroke="url(#g148)"/><path d="M1221.7 3067L1239.2 3075.7L1210 2988Z" fill="url(#g149)" stroke="url(#g149)"/><path d="M1239.2 3075.7L1241.2 3011.4L1210 2988Z" fill="url(#g150)" stroke="url(#g150)"/><path d="M1239.2 3075.7L1293.8 3073.8L1241.2 3011.4Z" fill="url(#g151)" stroke="url(#g151)"/><path d="M1293.8 3073.8L1339.4 3011.4L1241.2 3011.4Z" fill="url(#g152)" stroke="url(#g152)"/><path d="M1293.8 3073.8L1360.8 3062L1339.4 3011.4Z" fill="url(#g153)" stroke="url(#g153)"/><path d="M1360.8 3062L1384.2 3052.4L1339.4 3011.4Z" fill="url(#g154)" stroke="url(#g154)"/><path d="M1384.2 3052.4L1399.7 2997.8L1339.4 3011.4Z" fill="url(#g155)" stroke="url(#g155)"/><path d="M1384.2 3052.4L1429 3052.4L1399.7 2997.8Z" fill="url(#g156)" stroke="url(#g156)"/><path d="M1429 3052.4L1460 3017.3L1399.7 2997.8Z" fill="url(#g157)" stroke="url(#g157)"/><path d="M1460 3017.3L1436.8 2979.3L1399.7 2997.8Z" fill="url(#g158)" stroke="url(#g158)"/><path d="M1103 2957L1125 2972L1134 2949Z" fill="url(#g159)" stroke="url(#g159)"/><path d="M1125 2972L1160 2952L1134 2949Z" fill="url(#g160)" stroke="url(#g160)"/><path d="M1125 2972L1143.8 2974.4L1160 2952Z" fill="url(#g161)" stroke="url(#g161)"/><path d="M1143.8 2974.4L1163.3 2985L1160 2952Z" fill="url(#g162)" stroke="url(#g162)"/><path d="M1163.3 2985L1215 2964L1160 2952Z" fill="url(#g163)" stroke="url(#g163)"/><path d="M1163.3 2985L1210 2988L1215 2964Z" fill="url(#g164)" stroke="url(#g164)"/><path d="M1210 2988L1245 2984L1215 2964Z" fill="url(#g165)" stroke="url(#g165)"/><path d="M1210 2988L1241.2 3011.4L1245 2984Z" fill="url(#g166)" stroke="url(#g166)"/><path d="M1241.2 3011.4L1338 2982L1245 2984Z" fill="url(#g167)" stroke="url(#g167)"/><path d="M1241.2 3011.4L1339.4 3011.4L1338 2982Z" fill="url(#g168)" stroke="url(#g168)"/><path d="M1339.4 3011.4L1396 2974L1338 2982Z" fill="url(#g169)" stroke="url(#g169)"/><path d="M1339.4 3011.4L1399.7 2997.8L1396 2974Z" fill="url(#g170)" stroke="url(#g170)"/><path d="M1399.7 2997.8L1436.8 2979.3L1396 2974Z" fill="url(#g171)" stroke="url(#g171)"/><path d="M1436.8 2979.3L1431 2953L1396 2974Z" fill="url(#g172)" stroke="url(#g172)"/><path d="M1134 2949L1160 2952L1145.7 2916Z" fill="url(#g173)" stroke="url(#g173)"/><path d="M1160 2952L1176.9 2925.7L1145.7 2916Z" fill="url(#g174)" stroke="url(#g174)"/><path d="M1160 2952L1219.8 2941.3L1176.9 2925.7Z" fill="url(#g175)" stroke="url(#g175)"/><path d="M1160 2952L1215 2964L1219.8 2941.3Z" fill="url(#g176)" stroke="url(#g176)"/><path d="M1215 2964L1249 2958L1219.8 2941.3Z" fill="url(#g177)" stroke="url(#g177)"/><path d="M1215 2964L1245 2984L1249 2958Z" fill="url(#g178)" stroke="url(#g178)"/><path d="M1245 2984L1337 2954L1249 2958Z" fill="url(#g179)" stroke="url(#g179)"/><path d="M1245 2984L1338 2982L1337 2954Z" fill="url(#g180)" stroke="url(#g180)"/><path d="M1338 2982L1392 2952L1337 2954Z" fill="url(#g181)" stroke="url(#g181)"/><path d="M1338 2982L1396 2974L1392 2952Z" fill="url(#g182)" stroke="url(#g182)"/><path d="M1396 2974L1401.7 2939.4L1392 2952Z" fill="url(#g183)" stroke="url(#g183)"/><path d="M1396 2974L1431 2953L1401.7 2939.4Z" fill="url(#g184)" stroke="url(#g184)"/><path d="M1431 2953L1424 2929.6L1401.7 2939.4Z" fill="url(#g185)" stroke="url(#g185)"/><path d="M1145.7 2916L1204.2 2875L1188.6 2867.3Z" fill="url(#g186)" stroke="url(#g186)"/><path d="M1145.7 2916L1176.9 2925.7L1204.2 2875Z" fill="url(#g187)" stroke="url(#g187)"/><path d="M1176.9 2925.7L1215.9 2890.6L1204.2 2875Z" fill="url(#g188)" stroke="url(#g188)"/><path d="M1176.9 2925.7L1219.8 2941.3L1215.9 2890.6Z" fill="url(#g189)" stroke="url(#g189)"/><path d="M1219.8 2941.3L1247 2900.4L1215.9 2890.6Z" fill="url(#g190)" stroke="url(#g190)"/><path d="M1219.8 2941.3L1249 2958L1247 2900.4Z" fill="url(#g191)" stroke="url(#g191)"/><path d="M1249 2958L1332.7 2900.4L1247 2900.4Z" fill="url(#g192)" stroke="url(#g192)"/><path d="M1249 2958L1337 2954L1332.7 2900.4Z" fill="url(#g193)" stroke="url(#g193)"/><path d="M1337 2954L1392 2952L1332.7 2900.4Z" fill="url(#g194)" stroke="url(#g194)"/><path d="M1392 2952L1388 2906.2L1332.7 2900.4Z" fill="url(#g195)" stroke="url(#g195)"/><path d="M1392 2952L1401.7 2939.4L1388 2906.2Z" fill="url(#g196)" stroke="url(#g196)"/><path d="M1401.7 2939.4L1424 2929.6L1388 2906.2Z" fill="url(#g197)" stroke="url(#g197)"/><path d="M1424 2929.6L1404.6 2884.8L1388 2906.2Z" fill="url(#g198)" stroke="url(#g198)"/><path d="M1188.6 2867.3L1204.2 2875L1208.4 2831.8Z" fill="url(#g199)" stroke="url(#g199)"/><path d="M1204.2 2875L1231.8 2843.5L1208.4 2831.8Z" fill="url(#g200)" stroke="url(#g200)"/><path d="M1204.2 2875L1215.9 2890.6L1231.8 2843.5Z" fill="url(#g201)" stroke="url(#g201)"/><path d="M1215.9 2890.6L1257 2852.3L1231.8 2843.5Z" fill="url(#g202)" stroke="url(#g202)"/><path d="M1215.9 2890.6L1247 2900.4L1257 2852.3Z" fill="url(#g203)" stroke="url(#g203)"/><path d="M1247 2900.4L1305.9 2854.2L1257 2852.3Z" fill="url(#g204)" stroke="url(#g204)"/><path d="M1247 2900.4L1344.8 2853.3L1305.9 2854.2Z" fill="url(#g205)" stroke="url(#g205)"/><path d="M1247 2900.4L1332.7 2900.4L1344.8 2853.3Z" fill="url(#g206)" stroke="url(#g206)"/><path d="M1332.7 2900.4L1378 2859L1344.8 2853.3Z" fill="url(#g207)" stroke="url(#g207)"/><path d="M1332.7 2900.4L1388 2906.2L1378 2859Z" fill="url(#g208)" stroke="url(#g208)"/><path d="M1388 2906.2L1383.8 2829.9L1378 2859Z" fill="url(#g209)" stroke="url(#g209)"/><path d="M1388 2906.2L1404.6 2884.8L1383.8 2829.9Z" fill="url(#g210)" stroke="url(#g210)"/><path d="M1404.6 2884.8L1399.4 2824L1383.8 2829.9Z" fill="url(#g211)" stroke="url(#g211)"/><path d="M1208.4 2831.8L1231.8 2843.5L1215.3 2783Z" fill="url(#g212)" stroke="url(#g212)"/><path d="M1231.8 2843.5L1241.6 2796.8L1215.3 2783Z" fill="url(#g213)" stroke="url(#g213)"/><path d="M1231.8 2843.5L1257 2852.3L1241.6 2796.8Z" fill="url(#g214)" stroke="url(#g214)"/><path d="M1257 2852.3L1266.9 2804.6L1241.6 2796.8Z" fill="url(#g215)" stroke="url(#g215)"/><path d="M1257 2852.3L1305.9 2854.2L1266.9 2804.6Z" fill="url(#g216)" stroke="url(#g216)"/><path d="M1305.9 2854.2L1305.9 2804.6L1266.9 2804.6Z" fill="url(#g217)" stroke="url(#g217)"/><path d="M1305.9 2854.2L1315.6 2796.8L1305.9 2804.6Z" fill="url(#g218)" stroke="url(#g218)"/><path d="M1305.9 2854.2L1344.8 2853.3L1315.6 2796.8Z" fill="url(#g219)" stroke="url(#g219)"/><path d="M1344.8 2853.3L1378 2859L1315.6 2796.8Z" fill="url(#g220)" stroke="url(#g220)"/><path d="M1378 2859L1364.3 2794.8L1315.6 2796.8Z" fill="url(#g221)" stroke="url(#g221)"/><path d="M1378 2859L1370 2783L1364.3 2794.8Z" fill="url(#g222)" stroke="url(#g222)"/><path d="M1378 2859L1383.8 2829.9L1370 2783Z" fill="url(#g223)" stroke="url(#g223)"/><path d="M1383.8 2829.9L1399.4 2824L1370 2783Z" fill="url(#g224)" stroke="url(#g224)"/><path d="M1399.4 2824L1395.5 2778.3L1370 2783Z" fill="url(#g225)" stroke="url(#g225)"/><path d="M1215.3 2783L1241.6 2796.8L1222 2740.3Z" fill="url(#g226)" stroke="url(#g226)"/><path d="M1241.6 2796.8L1247.4 2750L1222 2740.3Z" fill="url(#g227)" stroke="url(#g227)"/><path d="M1241.6 2796.8L1266.9 2804.6L1247.4 2750Z" fill="url(#g228)" stroke="url(#g228)"/><path d="M1266.9 2804.6L1286.4 2755.9L1247.4 2750Z" fill="url(#g229)" stroke="url(#g229)"/><path d="M1266.9 2804.6L1305.9 2804.6L1286.4 2755.9Z" fill="url(#g230)" stroke="url(#g230)"/><path d="M1305.9 2804.6L1315.6 2796.8L1286.4 2755.9Z" fill="url(#g231)" stroke="url(#g231)"/><path d="M1315.6 2796.8L1305.9 2750L1286.4 2755.9Z" fill="url(#g232)" stroke="url(#g232)"/><path d="M1315.6 2796.8L1364.3 2794.8L1305.9 2750Z" fill="url(#g233)" stroke="url(#g233)"/><path d="M1364.3 2794.8L1370 2783L1305.9 2750Z" fill="url(#g234)" stroke="url(#g234)"/><path d="M1370 2783L1358.5 2750L1305.9 2750Z" fill="url(#g235)" stroke="url(#g235)"/><path d="M1370 2783L1395.5 2778.3L1358.5 2750Z" fill="url(#g236)" stroke="url(#g236)"/><path d="M1395.5 2778.3L1362.4 2738L1358.5 2750Z" fill="url(#g237)" stroke="url(#g237)"/><path d="M1222 2740.3L1247.4 2750L1230.8 2696.4Z" fill="url(#g238)" stroke="url(#g238)"/><path d="M1247.4 2750L1266.9 2701.3L1230.8 2696.4Z" fill="url(#g239)" stroke="url(#g239)"/><path d="M1247.4 2750L1286.4 2755.9L1266.9 2701.3Z" fill="url(#g240)" stroke="url(#g240)"/><path d="M1286.4 2755.9L1305.9 2750L1266.9 2701.3Z" fill="url(#g241)" stroke="url(#g241)"/><path d="M1305.9 2750L1305.9 2699.4L1266.9 2701.3Z" fill="url(#g242)" stroke="url(#g242)"/><path d="M1305.9 2750L1358.5 2750L1305.9 2699.4Z" fill="url(#g243)" stroke="url(#g243)"/><path d="M1358.5 2750L1352.6 2702.3L1305.9 2699.4Z" fill="url(#g244)" stroke="url(#g244)"/><path d="M1358.5 2750L1362.4 2738L1352.6 2702.3Z" fill="url(#g245)" stroke="url(#g245)"/><path d="M1362.4 2738L1353.6 2701.3L1352.6 2702.3Z" fill="url(#g246)" stroke="url(#g246)"/><path d="M1230.8 2696.4L1276.6 2652.6L1245.5 2645.8Z" fill="url(#g247)" stroke="url(#g247)"/><path d="M1230.8 2696.4L1266.9 2701.3L1276.6 2652.6Z" fill="url(#g248)" stroke="url(#g248)"/><path d="M1266.9 2701.3L1305.9 2699.4L1276.6 2652.6Z" fill="url(#g249)" stroke="url(#g249)"/><path d="M1305.9 2699.4L1317.5 2648.7L1276.6 2652.6Z" fill="url(#g250)" stroke="url(#g250)"/><path d="M1305.9 2699.4L1325.3 2660.4L1317.5 2648.7Z" fill="url(#g251)" stroke="url(#g251)"/><path d="M1305.9 2699.4L1352.6 2702.3L1325.3 2660.4Z" fill="url(#g252)" stroke="url(#g252)"/><path d="M1352.6 2702.3L1353.6 2701.3L1325.3 2660.4Z" fill="url(#g253)" stroke="url(#g253)"/><path d="M1353.6 2701.3L1349.7 2675L1325.3 2660.4Z" fill="url(#g254)" stroke="url(#g254)"/><path d="M1245.5 2645.8L1276.6 2652.6L1249.4 2635Z" fill="url(#g255)" stroke="url(#g255)"/><path d="M1276.6 2652.6L1276.6 2619.5L1249.4 2635Z" fill="url(#g256)" stroke="url(#g256)"/><path d="M1276.6 2652.6L1297 2615.6L1276.6 2619.5Z" fill="url(#g257)" stroke="url(#g257)"/><path d="M1276.6 2652.6L1317.5 2648.7L1297 2615.6Z" fill="url(#g258)" stroke="url(#g258)"/><path d="M1317.5 2648.7L1325.3 2660.4L1297 2615.6Z" fill="url(#g259)" stroke="url(#g259)"/><path d="M1325.3 2660.4L1349.7 2675L1297 2615.6Z" fill="url(#g260)" stroke="url(#g260)"/><path d="M1349.7 2675L1315.6 2646.8L1297 2615.6Z" fill="url(#g261)" stroke="url(#g261)"/></g>
<path d="M1118.4 3027L1100.9 3022M1118.4 3027L1118.4 3027M1132 3044.6L1118.4 3027M1132 3044.6L1132 3044.6M1132 3044.6L1132 3044.6M1173 3048L1132 3044.6M1176.9 3064L1173 3048M1176.9 3064L1176.9 3064M1221.7 3067L1176.9 3064M1239.2 3075.7L1221.7 3067M1239.2 3075.7L1239.2 3075.7M1293.8 3073.8L1239.2 3075.7M1293.8 3073.8L1293.8 3073.8M1360.8 3062L1293.8 3073.8M1384.2 3052.4L1360.8 3062M1384.2 3052.4L1384.2 3052.4M1429 3052.4L1384.2 3052.4M1460 3017.3L1429 3052.4M1460 3017.3L1460 3017.3M1125 2972L1103 2957M1125 2972L1125 2972M1143.8 2974.4L1125 2972M1163.3 2985L1143.8 2974.4M1163.3 2985L1163.3 2985M1210 2988L1163.3 2985M1210 2988L1210 2988M1241.2 3011.4L1210 2988M1241.2 3011.4L1241.2 3011.4M1339.4 3011.4L1241.2 3011.4M1339.4 3011.4L1339.4 3011.4M1399.7 2997.8L1339.4 3011.4M1436.8 2979.3L1399.7 2997.8M1436.8 2979.3L1436.8 2979.3M1145.7 2916L1145.7 2916M1176.9 2925.7L1145.7 2916M1176.9 2925.7L1176.9 2925.7M1219.8 2941.3L1176.9 2925.7M1219.8 2941.3L1219.8 2941.3M1249 2958L1219.8 2941.3M1249 2958L1249 2958M1337 2954L1249 2958M1392 2952L1337 2954M1392 2952L1392 2952M1401.7 2939.4L1392 2952M1424 2929.6L1401.7 2939.4M1424 2929.6L1424 2929.6M1204.2 2875L1188.6 2867.3M1204.2 2875L1204.2 2875M1215.9 2890.6L1204.2 2875M1215.9 2890.6L1215.9 2890.6M1247 2900.4L1215.9 2890.6M1247 2900.4L1247 2900.4M1247 2900.4L1247 2900.4M1332.7 2900.4L1247 2900.4M1332.7 2900.4L1332.7 2900.4M1388 2906.2L1332.7 2900.4M1388 2906.2L1388 2906.2M1404.6 2884.8L1388 2906.2M1404.6 2884.8L1404.6 2884.8M1231.8 2843.5L1208.4 2831.8M1231.8 2843.5L1231.8 2843.5M1257 2852.3L1231.8 2843.5M1257 2852.3L1257 2852.3M1305.9 2854.2L1257 2852.3M1305.9 2854.2L1305.9 2854.2M1305.9 2854.2L1305.9 2854.2M1344.8 2853.3L1305.9 2854.2M1378 2859L1344.8 2853.3M1378 2859L1378 2859M1378 2859L1378 2859M1383.8 2829.9L1378 2859M1399.4 2824L1383.8 2829.9M1399.4 2824L1399.4 2824M1241.6 2796.8L1215.3 2783M1241.6 2796.8L1241.6 2796.8M1266.9 2804.6L1241.6 2796.8M1266.9 2804.6L1266.9 2804.6M1305.9 2804.6L1266.9 2804.6M1315.6 2796.8L1305.9 2804.6M1315.6 2796.8L1315.6 2796.8M1364.3 2794.8L1315.6 2796.8M1370 2783L1364.3 2794.8M1370 2783L1370 2783M1395.5 2778.3L1370 2783M1395.5 2778.3L1395.5 2778.3M1364 2739.9L1358.5 2750M1247.4 2750L1222 2740.3M1247.4 2750L1247.4 2750M1286.4 2755.9L1247.4 2750M1305.9 2750L1286.4 2755.9M1305.9 2750L1305.9 2750M1358.5 2750L1305.9 2750M1358.5 2750L1358.5 2750M1358.5 2750L1358.5 2750M1230.8 2696.4L1230.8 2696.4M1266.9 2701.3L1230.8 2696.4M1305.9 2699.4L1266.9 2701.3M1305.9 2699.4L1305.9 2699.4M1305.9 2699.4L1305.9 2699.4M1352.6 2702.3L1305.9 2699.4M1353.6 2701.3L1352.6 2702.3M1353.6 2701.3L1353.6 2701.3M1276.6 2652.6L1245.5 2645.8M1276.6 2652.6L1276.6 2652.6M1276.6 2652.6L1276.6 2652.6M1317.5 2648.7L1276.6 2652.6M1320.6 2652.9L1317.5 2648.7M1332.1 2655.2L1320.6 2652.9M1318.7 2649.4L1332.1 2655.2" stroke="#484848" stroke-width="2.3" fill="none" stroke-linecap="round"/>
<g fill="none" stroke="#9a9a9a" stroke-width="1.9"><polyline points="1276.8,2620.7 1210.7,2986.8"/><polyline points="1276.8,2620.7 1323.2,2810"/><polyline points="1262.5,2874.3 1210.7,2986.8"/><polyline points="1262.5,2874.3 1285.7,3024.3"/><polyline points="1351.8,2810 1332,2935 1307,2938.6 1285.7,3024.3"/><polyline points="1351.8,2810 1376.8,2845.7 1403.6,3024.3"/><polyline points="1210.7,2986.8 1185.7,3038.6 1100,3110"/><polyline points="1285.7,3024.3 1246.4,3076 1180,3140"/><polyline points="1285.7,3024.3 1342.9,3102.9"/><polyline points="1403.6,3024.3 1478.6,3074"/></g>
<line x1="446.4" y1="1954.6" x2="494.9" y2="3094.9" stroke="#000" stroke-width="4.2" stroke-linecap="square"/>
<line x1="494.9" y1="3094.9" x2="1384.7" y2="3424.4" stroke="#000" stroke-width="4.2" stroke-linecap="square"/>
<line x1="1384.7" y1="3424.4" x2="2093.6" y2="3050.6" stroke="#000" stroke-width="3.6" stroke-linecap="square"/>
<g><line x1="494.9" y1="3094.9" x2="477.1" y2="3101.7" stroke="#000" stroke-width="3.4" stroke-linecap="butt"/><line x1="490.3" y1="2987.2" x2="472.4" y2="2993.5" stroke="#000" stroke-width="3.4" stroke-linecap="butt"/><line x1="485.7" y1="2878.1" x2="467.7" y2="2884.1" stroke="#000" stroke-width="3.4" stroke-linecap="butt"/><line x1="481" y1="2767.6" x2="462.9" y2="2773.3" stroke="#000" stroke-width="3.4" stroke-linecap="butt"/><line x1="476.2" y1="2655.8" x2="458" y2="2661.2" stroke="#000" stroke-width="3.4" stroke-linecap="butt"/><line x1="471.4" y1="2542.6" x2="453.1" y2="2547.6" stroke="#000" stroke-width="3.4" stroke-linecap="butt"/><line x1="466.5" y1="2427.9" x2="448.1" y2="2432.6" stroke="#000" stroke-width="3.4" stroke-linecap="butt"/><line x1="461.6" y1="2311.8" x2="443" y2="2316.1" stroke="#000" stroke-width="3.4" stroke-linecap="butt"/><line x1="456.6" y1="2194.3" x2="438" y2="2198.1" stroke="#000" stroke-width="3.4" stroke-linecap="butt"/><line x1="451.5" y1="2075.2" x2="432.8" y2="2078.7" stroke="#000" stroke-width="3.4" stroke-linecap="butt"/><line x1="446.4" y1="1954.6" x2="427.6" y2="1957.6" stroke="#000" stroke-width="3.4" stroke-linecap="butt"/><line x1="501" y1="3097.2" x2="483.2" y2="3103.9" stroke="#000" stroke-width="3.4" stroke-linecap="butt"/><line x1="545.6" y1="3113.7" x2="536.2" y2="3117.3" stroke="#000" stroke-width="3.4" stroke-linecap="butt"/><line x1="590.9" y1="3130.5" x2="573.2" y2="3137.4" stroke="#000" stroke-width="3.4" stroke-linecap="butt"/><line x1="637" y1="3147.5" x2="627.7" y2="3151.2" stroke="#000" stroke-width="3.4" stroke-linecap="butt"/><line x1="683.8" y1="3164.9" x2="666.2" y2="3172" stroke="#000" stroke-width="3.4" stroke-linecap="butt"/><line x1="731.4" y1="3182.5" x2="722.2" y2="3186.3" stroke="#000" stroke-width="3.4" stroke-linecap="butt"/><line x1="779.9" y1="3200.4" x2="762.3" y2="3207.8" stroke="#000" stroke-width="3.4" stroke-linecap="butt"/><line x1="829.1" y1="3218.7" x2="819.9" y2="3222.6" stroke="#000" stroke-width="3.4" stroke-linecap="butt"/><line x1="879.2" y1="3237.2" x2="861.8" y2="3244.8" stroke="#000" stroke-width="3.4" stroke-linecap="butt"/><line x1="930.1" y1="3256.1" x2="921" y2="3260.1" stroke="#000" stroke-width="3.4" stroke-linecap="butt"/><line x1="982" y1="3275.3" x2="964.7" y2="3283.1" stroke="#000" stroke-width="3.4" stroke-linecap="butt"/><line x1="1034.7" y1="3294.8" x2="1025.6" y2="3299" stroke="#000" stroke-width="3.4" stroke-linecap="butt"/><line x1="1088.4" y1="3314.7" x2="1071.2" y2="3322.8" stroke="#000" stroke-width="3.4" stroke-linecap="butt"/><line x1="1143" y1="3334.9" x2="1134" y2="3339.3" stroke="#000" stroke-width="3.4" stroke-linecap="butt"/><line x1="1198.7" y1="3355.5" x2="1181.6" y2="3363.9" stroke="#000" stroke-width="3.4" stroke-linecap="butt"/><line x1="1255.3" y1="3376.5" x2="1246.4" y2="3381" stroke="#000" stroke-width="3.4" stroke-linecap="butt"/><line x1="1313" y1="3397.9" x2="1296.1" y2="3406.5" stroke="#000" stroke-width="3.4" stroke-linecap="butt"/><line x1="1371.8" y1="3419.6" x2="1362.9" y2="3424.3" stroke="#000" stroke-width="3.4" stroke-linecap="butt"/><line x1="1421.6" y1="3404.9" x2="1431" y2="3408.3" stroke="#000" stroke-width="3.4" stroke-linecap="butt"/><line x1="1468.7" y1="3380.1" x2="1486.6" y2="3386.5" stroke="#000" stroke-width="3.4" stroke-linecap="butt"/><line x1="1514.8" y1="3355.8" x2="1524.3" y2="3359.1" stroke="#000" stroke-width="3.4" stroke-linecap="butt"/><line x1="1560" y1="3332" x2="1577.9" y2="3338.2" stroke="#000" stroke-width="3.4" stroke-linecap="butt"/><line x1="1604.2" y1="3308.6" x2="1613.6" y2="3311.9" stroke="#000" stroke-width="3.4" stroke-linecap="butt"/><line x1="1647.5" y1="3285.8" x2="1665.5" y2="3291.9" stroke="#000" stroke-width="3.4" stroke-linecap="butt"/><line x1="1689.9" y1="3263.4" x2="1699.4" y2="3266.6" stroke="#000" stroke-width="3.4" stroke-linecap="butt"/><line x1="1731.4" y1="3241.5" x2="1749.5" y2="3247.4" stroke="#000" stroke-width="3.4" stroke-linecap="butt"/><line x1="1772.2" y1="3220" x2="1781.7" y2="3223.1" stroke="#000" stroke-width="3.4" stroke-linecap="butt"/><line x1="1812.1" y1="3199" x2="1830.3" y2="3204.7" stroke="#000" stroke-width="3.4" stroke-linecap="butt"/><line x1="1851.3" y1="3178.3" x2="1860.8" y2="3181.3" stroke="#000" stroke-width="3.4" stroke-linecap="butt"/><line x1="1889.7" y1="3158.1" x2="1907.9" y2="3163.6" stroke="#000" stroke-width="3.4" stroke-linecap="butt"/><line x1="1927.4" y1="3138.2" x2="1936.9" y2="3141.1" stroke="#000" stroke-width="3.4" stroke-linecap="butt"/><line x1="1964.3" y1="3118.7" x2="1982.5" y2="3124.1" stroke="#000" stroke-width="3.4" stroke-linecap="butt"/><line x1="2000.6" y1="3099.6" x2="2010.2" y2="3102.4" stroke="#000" stroke-width="3.4" stroke-linecap="butt"/><line x1="2036.2" y1="3080.8" x2="2054.4" y2="3086.1" stroke="#000" stroke-width="3.4" stroke-linecap="butt"/><line x1="2071.1" y1="3062.4" x2="2080.7" y2="3065.2" stroke="#000" stroke-width="3.4" stroke-linecap="butt"/></g>
<g font-weight="bold"><text transform="matrix(0.5291 -0.1998 0.0287 0.6461 463.4 3106.9)" font-size="100" text-anchor="end" y="36" >0</text><text transform="matrix(0.5328 -0.1903 0.0290 0.6541 458.5 2998.5)" font-size="100" text-anchor="end" y="36" >2,000</text><text transform="matrix(0.5366 -0.1805 0.0294 0.6622 453.7 2888.8)" font-size="100" text-anchor="end" y="36" >4,000</text><text transform="matrix(0.5404 -0.1705 0.0298 0.6704 448.7 2777.8)" font-size="100" text-anchor="end" y="36" >6,000</text><text transform="matrix(0.5443 -0.1602 0.0301 0.6788 443.8 2665.3)" font-size="100" text-anchor="end" y="36" >8,000</text><text transform="matrix(0.5483 -0.1496 0.0305 0.6874 438.7 2551.5)" font-size="100" text-anchor="end" y="36" >10,000</text><text transform="matrix(0.5522 -0.1388 0.0309 0.6961 433.6 2436.2)" font-size="100" text-anchor="end" y="36" >12,000</text><text transform="matrix(0.5563 -0.1277 0.0313 0.7050 428.4 2319.5)" font-size="100" text-anchor="end" y="36" >14,000</text><text transform="matrix(0.5604 -0.1162 0.0317 0.7140 423.1 2201.2)" font-size="100" text-anchor="end" y="36" >16,000</text><text transform="matrix(0.5646 -0.1045 0.0321 0.7233 417.8 2081.4)" font-size="100" text-anchor="end" y="36" >18,000</text><text transform="matrix(0.5688 -0.0924 0.0325 0.7327 412.4 1960.1)" font-size="100" text-anchor="end" y="36" >20,000</text><text transform="matrix(0.5420 -0.2051 0.4723 0.1768 471.2 3108.5)" font-size="100" text-anchor="end" y="45" >14,000</text><text transform="matrix(0.5416 -0.2120 0.4879 0.1826 561.1 3142.1)" font-size="100" text-anchor="end" y="45" >16,000</text><text transform="matrix(0.5409 -0.2191 0.5043 0.1888 654.1 3176.9)" font-size="100" text-anchor="end" y="45" >18,000</text><text transform="matrix(0.5399 -0.2267 0.5215 0.1952 750.2 3212.9)" font-size="100" text-anchor="end" y="45" >20,000</text><text transform="matrix(0.5384 -0.2346 0.5396 0.2020 849.6 3250.1)" font-size="100" text-anchor="end" y="45" >22,000</text><text transform="matrix(0.5366 -0.2429 0.5587 0.2091 952.5 3288.6)" font-size="100" text-anchor="end" y="45" >24,000</text><text transform="matrix(0.5342 -0.2517 0.5788 0.2167 1059 3328.5)" font-size="100" text-anchor="end" y="45" >26,000</text><text transform="matrix(0.5313 -0.2610 0.6000 0.2246 1169.5 3369.9)" font-size="100" text-anchor="end" y="45" >28,000</text><text transform="matrix(0.5279 -0.2708 0.6225 0.2330 1284 3412.7)" font-size="100" text-anchor="end" y="45" >30,000</text><text transform="matrix(0.6289 0.2256 -0.4979 0.2661 1503.8 3392.7)" font-size="100" text-anchor="start" y="36" >22,000</text><text transform="matrix(0.6243 0.2162 -0.4772 0.2551 1594.8 3344)" font-size="100" text-anchor="start" y="36" >24,000</text><text transform="matrix(0.6195 0.2075 -0.4578 0.2447 1682 3297.4)" font-size="100" text-anchor="start" y="36" >26,000</text><text transform="matrix(0.6146 0.1992 -0.4395 0.2349 1765.8 3252.7)" font-size="100" text-anchor="start" y="36" >28,000</text><text transform="matrix(0.6096 0.1915 -0.4223 0.2257 1846.2 3209.7)" font-size="100" text-anchor="start" y="36" >30,000</text><text transform="matrix(0.6045 0.1842 -0.4061 0.2170 1923.5 3168.4)" font-size="100" text-anchor="start" y="36" >32,000</text><text transform="matrix(0.5993 0.1773 -0.3908 0.2089 1997.8 3128.6)" font-size="100" text-anchor="start" y="36" >34,000</text><text transform="matrix(0.5941 0.1708 -0.3763 0.2011 2069.4 3090.4)" font-size="100" text-anchor="start" y="36" >36,000</text></g>
<g font-weight="bold"><text transform="matrix(0.5183 0.2127 -0.5578 0.2472 644.9 3378)" font-size="100" text-anchor="middle" y="36" >X axis (<tspan font-weight="normal">µ</tspan>m)</text><text transform="matrix(0.3951 -0.2353 0.6317 0.2025 2063.2 3323.4)" font-size="100" text-anchor="middle" y="36" >Y axis (<tspan font-weight="normal">µ</tspan>m)</text><text transform="matrix(0.0432 0.7632 -0.6730 0.1832 219.8 2606.9)" font-size="100" text-anchor="middle" y="36" >Integral/<tspan font-weight="normal">µ</tspan>m<tspan font-size="62" dy="-38">2</tspan><tspan dy="38"> (cts/</tspan><tspan font-weight="normal">µ</tspan><tspan>m</tspan><tspan font-size="62" dy="-38">2</tspan><tspan dy="38">)</tspan></text></g>
<text x="66" y="267" font-size="118" font-weight="bold">a)</text>
<text x="64" y="2042" font-size="120" font-weight="bold">b)</text>
</svg>
</body></html>
